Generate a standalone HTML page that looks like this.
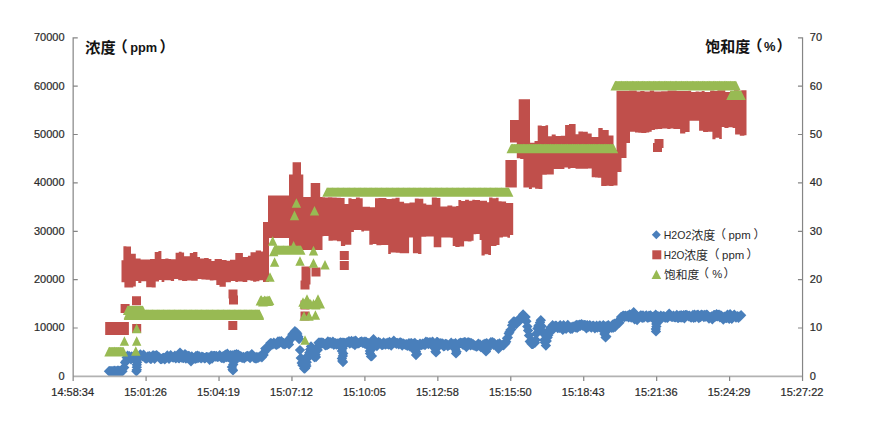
<!DOCTYPE html>
<html><head><meta charset="utf-8"><title>chart</title>
<style>html,body{margin:0;padding:0;background:#fff;}body{width:869px;height:422px;overflow:hidden;font-family:"Liberation Sans",sans-serif;}svg{display:block;}</style>
</head><body>
<svg width="869" height="422" viewBox="0 0 869 422">
<defs><filter id="bl" x="-2%" y="-2%" width="104%" height="104%"><feGaussianBlur stdDeviation="0.4"/></filter></defs>
<rect width="869" height="422" fill="#fff"/>
<g filter="url(#bl)">
<path d="M109 366l5.2 5.2l-5.2 5.2l-5.2 -5.2zM109.8 365.9l5.2 5.2l-5.2 5.2l-5.2 -5.2zM110.7 366l5.2 5.2l-5.2 5.2l-5.2 -5.2zM111.5 366l5.2 5.2l-5.2 5.2l-5.2 -5.2zM112.4 366.2l5.2 5.2l-5.2 5.2l-5.2 -5.2zM113.2 365.8l5.2 5.2l-5.2 5.2l-5.2 -5.2zM114.1 366.3l5.2 5.2l-5.2 5.2l-5.2 -5.2zM114.9 365.5l5.2 5.2l-5.2 5.2l-5.2 -5.2zM115.8 366.4l5.2 5.2l-5.2 5.2l-5.2 -5.2zM116.6 366.1l5.2 5.2l-5.2 5.2l-5.2 -5.2zM117.4 365.5l5.2 5.2l-5.2 5.2l-5.2 -5.2zM118.3 365.5l5.2 5.2l-5.2 5.2l-5.2 -5.2zM119.1 365.7l5.2 5.2l-5.2 5.2l-5.2 -5.2zM120 365.9l5.2 5.2l-5.2 5.2l-5.2 -5.2zM120.8 366.3l5.2 5.2l-5.2 5.2l-5.2 -5.2zM121.7 366.1l5.2 5.2l-5.2 5.2l-5.2 -5.2zM122.5 366.1l5.2 5.2l-5.2 5.2l-5.2 -5.2zM123.4 362.7l5.2 5.2l-5.2 5.2l-5.2 -5.2zM124.2 362.4l5.2 5.2l-5.2 5.2l-5.2 -5.2zM125.1 357.3l5.2 5.2l-5.2 5.2l-5.2 -5.2zM125.9 356l5.2 5.2l-5.2 5.2l-5.2 -5.2zM126.7 352.3l5.2 5.2l-5.2 5.2l-5.2 -5.2zM127.6 350.5l5.2 5.2l-5.2 5.2l-5.2 -5.2zM128.4 352.5l5.2 5.2l-5.2 5.2l-5.2 -5.2zM129.3 351l5.2 5.2l-5.2 5.2l-5.2 -5.2zM130.1 351.9l5.2 5.2l-5.2 5.2l-5.2 -5.2zM131 354l5.2 5.2l-5.2 5.2l-5.2 -5.2zM131.8 351.2l5.2 5.2l-5.2 5.2l-5.2 -5.2zM132.7 352.6l5.2 5.2l-5.2 5.2l-5.2 -5.2zM133.5 351.5l5.2 5.2l-5.2 5.2l-5.2 -5.2zM134.3 350.7l5.2 5.2l-5.2 5.2l-5.2 -5.2zM135.2 351.3l5.2 5.2l-5.2 5.2l-5.2 -5.2zM136 353l5.2 5.2l-5.2 5.2l-5.2 -5.2zM136.9 352.6l5.2 5.2l-5.2 5.2l-5.2 -5.2zM137.7 352.4l5.2 5.2l-5.2 5.2l-5.2 -5.2zM138.6 352.6l5.2 5.2l-5.2 5.2l-5.2 -5.2zM139.4 351.7l5.2 5.2l-5.2 5.2l-5.2 -5.2zM140.3 349.2l5.2 5.2l-5.2 5.2l-5.2 -5.2zM141.1 350l5.2 5.2l-5.2 5.2l-5.2 -5.2zM142 350.7l5.2 5.2l-5.2 5.2l-5.2 -5.2zM142.8 351.2l5.2 5.2l-5.2 5.2l-5.2 -5.2zM143.6 349.6l5.2 5.2l-5.2 5.2l-5.2 -5.2zM144.5 350.4l5.2 5.2l-5.2 5.2l-5.2 -5.2zM145.3 353l5.2 5.2l-5.2 5.2l-5.2 -5.2zM146.2 353.3l5.2 5.2l-5.2 5.2l-5.2 -5.2zM147 353l5.2 5.2l-5.2 5.2l-5.2 -5.2zM147.9 351.3l5.2 5.2l-5.2 5.2l-5.2 -5.2zM148.7 351.5l5.2 5.2l-5.2 5.2l-5.2 -5.2zM149.6 351l5.2 5.2l-5.2 5.2l-5.2 -5.2zM150.4 353.6l5.2 5.2l-5.2 5.2l-5.2 -5.2zM151.2 353.6l5.2 5.2l-5.2 5.2l-5.2 -5.2zM152.1 350.9l5.2 5.2l-5.2 5.2l-5.2 -5.2zM152.9 350.2l5.2 5.2l-5.2 5.2l-5.2 -5.2zM153.8 350.2l5.2 5.2l-5.2 5.2l-5.2 -5.2zM154.6 353.5l5.2 5.2l-5.2 5.2l-5.2 -5.2zM155.5 352.3l5.2 5.2l-5.2 5.2l-5.2 -5.2zM156.3 349.9l5.2 5.2l-5.2 5.2l-5.2 -5.2zM157.2 350.6l5.2 5.2l-5.2 5.2l-5.2 -5.2zM158 351.4l5.2 5.2l-5.2 5.2l-5.2 -5.2zM158.9 351.8l5.2 5.2l-5.2 5.2l-5.2 -5.2zM159.7 352.9l5.2 5.2l-5.2 5.2l-5.2 -5.2zM160.5 353.8l5.2 5.2l-5.2 5.2l-5.2 -5.2zM161.4 353.9l5.2 5.2l-5.2 5.2l-5.2 -5.2zM162.2 353.3l5.2 5.2l-5.2 5.2l-5.2 -5.2zM163.1 352.8l5.2 5.2l-5.2 5.2l-5.2 -5.2zM163.9 352.8l5.2 5.2l-5.2 5.2l-5.2 -5.2zM164.8 354.2l5.2 5.2l-5.2 5.2l-5.2 -5.2zM165.6 352.3l5.2 5.2l-5.2 5.2l-5.2 -5.2zM166.5 352.5l5.2 5.2l-5.2 5.2l-5.2 -5.2zM167.3 350.3l5.2 5.2l-5.2 5.2l-5.2 -5.2zM168.1 352.6l5.2 5.2l-5.2 5.2l-5.2 -5.2zM169 353.5l5.2 5.2l-5.2 5.2l-5.2 -5.2zM169.8 350.9l5.2 5.2l-5.2 5.2l-5.2 -5.2zM170.7 350.1l5.2 5.2l-5.2 5.2l-5.2 -5.2zM171.5 351.3l5.2 5.2l-5.2 5.2l-5.2 -5.2zM172.4 351.9l5.2 5.2l-5.2 5.2l-5.2 -5.2zM173.2 352.4l5.2 5.2l-5.2 5.2l-5.2 -5.2zM174.1 351.4l5.2 5.2l-5.2 5.2l-5.2 -5.2zM174.9 350.4l5.2 5.2l-5.2 5.2l-5.2 -5.2zM175.8 353.2l5.2 5.2l-5.2 5.2l-5.2 -5.2zM176.6 351.7l5.2 5.2l-5.2 5.2l-5.2 -5.2zM177.4 351.6l5.2 5.2l-5.2 5.2l-5.2 -5.2zM178.3 352.6l5.2 5.2l-5.2 5.2l-5.2 -5.2zM179.1 353.1l5.2 5.2l-5.2 5.2l-5.2 -5.2zM180 347.4l5.2 5.2l-5.2 5.2l-5.2 -5.2zM180.8 351.2l5.2 5.2l-5.2 5.2l-5.2 -5.2zM181.7 352.3l5.2 5.2l-5.2 5.2l-5.2 -5.2zM182.5 352.4l5.2 5.2l-5.2 5.2l-5.2 -5.2zM183.4 352.8l5.2 5.2l-5.2 5.2l-5.2 -5.2zM184.2 350.1l5.2 5.2l-5.2 5.2l-5.2 -5.2zM185 348.9l5.2 5.2l-5.2 5.2l-5.2 -5.2zM185.9 353.4l5.2 5.2l-5.2 5.2l-5.2 -5.2zM186.7 350.3l5.2 5.2l-5.2 5.2l-5.2 -5.2zM187.6 352.8l5.2 5.2l-5.2 5.2l-5.2 -5.2zM188.4 350.7l5.2 5.2l-5.2 5.2l-5.2 -5.2zM189.3 351.1l5.2 5.2l-5.2 5.2l-5.2 -5.2zM190.1 352.1l5.2 5.2l-5.2 5.2l-5.2 -5.2zM191 356.1l5.2 5.2l-5.2 5.2l-5.2 -5.2zM191.8 351.2l5.2 5.2l-5.2 5.2l-5.2 -5.2zM192.7 353l5.2 5.2l-5.2 5.2l-5.2 -5.2zM193.5 353.5l5.2 5.2l-5.2 5.2l-5.2 -5.2zM194.3 352.7l5.2 5.2l-5.2 5.2l-5.2 -5.2zM195.2 353.7l5.2 5.2l-5.2 5.2l-5.2 -5.2zM196 350.7l5.2 5.2l-5.2 5.2l-5.2 -5.2zM196.9 353.1l5.2 5.2l-5.2 5.2l-5.2 -5.2zM197.7 350.4l5.2 5.2l-5.2 5.2l-5.2 -5.2zM198.6 352.5l5.2 5.2l-5.2 5.2l-5.2 -5.2zM199.4 351.3l5.2 5.2l-5.2 5.2l-5.2 -5.2zM200.3 352.3l5.2 5.2l-5.2 5.2l-5.2 -5.2zM201.1 353.2l5.2 5.2l-5.2 5.2l-5.2 -5.2zM201.9 351.5l5.2 5.2l-5.2 5.2l-5.2 -5.2zM202.8 352.1l5.2 5.2l-5.2 5.2l-5.2 -5.2zM203.6 352.2l5.2 5.2l-5.2 5.2l-5.2 -5.2zM204.5 353.1l5.2 5.2l-5.2 5.2l-5.2 -5.2zM205.3 352.8l5.2 5.2l-5.2 5.2l-5.2 -5.2zM206.2 351.9l5.2 5.2l-5.2 5.2l-5.2 -5.2zM207 351.7l5.2 5.2l-5.2 5.2l-5.2 -5.2zM207.9 352.8l5.2 5.2l-5.2 5.2l-5.2 -5.2zM208.7 352.2l5.2 5.2l-5.2 5.2l-5.2 -5.2zM209.6 354.6l5.2 5.2l-5.2 5.2l-5.2 -5.2zM210.4 353.2l5.2 5.2l-5.2 5.2l-5.2 -5.2zM211.2 350.5l5.2 5.2l-5.2 5.2l-5.2 -5.2zM212.1 353.4l5.2 5.2l-5.2 5.2l-5.2 -5.2zM212.9 350.8l5.2 5.2l-5.2 5.2l-5.2 -5.2zM213.8 351l5.2 5.2l-5.2 5.2l-5.2 -5.2zM214.6 350.7l5.2 5.2l-5.2 5.2l-5.2 -5.2zM215.5 351.4l5.2 5.2l-5.2 5.2l-5.2 -5.2zM216.3 350.7l5.2 5.2l-5.2 5.2l-5.2 -5.2zM217.2 351.7l5.2 5.2l-5.2 5.2l-5.2 -5.2zM218 351.5l5.2 5.2l-5.2 5.2l-5.2 -5.2zM218.8 351l5.2 5.2l-5.2 5.2l-5.2 -5.2zM219.7 350l5.2 5.2l-5.2 5.2l-5.2 -5.2zM220.5 351.3l5.2 5.2l-5.2 5.2l-5.2 -5.2zM221.4 352.6l5.2 5.2l-5.2 5.2l-5.2 -5.2zM222.2 352.7l5.2 5.2l-5.2 5.2l-5.2 -5.2zM223.1 350.9l5.2 5.2l-5.2 5.2l-5.2 -5.2zM223.9 353l5.2 5.2l-5.2 5.2l-5.2 -5.2zM224.8 350.1l5.2 5.2l-5.2 5.2l-5.2 -5.2zM225.6 349.4l5.2 5.2l-5.2 5.2l-5.2 -5.2zM226.5 351.8l5.2 5.2l-5.2 5.2l-5.2 -5.2zM227.3 348.5l5.2 5.2l-5.2 5.2l-5.2 -5.2zM228.1 351.9l5.2 5.2l-5.2 5.2l-5.2 -5.2zM229 351.5l5.2 5.2l-5.2 5.2l-5.2 -5.2zM229.8 352.8l5.2 5.2l-5.2 5.2l-5.2 -5.2zM230.7 350l5.2 5.2l-5.2 5.2l-5.2 -5.2zM231.5 353.2l5.2 5.2l-5.2 5.2l-5.2 -5.2zM232.4 350.2l5.2 5.2l-5.2 5.2l-5.2 -5.2zM233.2 350.4l5.2 5.2l-5.2 5.2l-5.2 -5.2zM234.1 350.1l5.2 5.2l-5.2 5.2l-5.2 -5.2zM234.9 349.6l5.2 5.2l-5.2 5.2l-5.2 -5.2zM235.7 350.5l5.2 5.2l-5.2 5.2l-5.2 -5.2zM236.6 349.1l5.2 5.2l-5.2 5.2l-5.2 -5.2zM237.4 351.8l5.2 5.2l-5.2 5.2l-5.2 -5.2zM238.3 349.6l5.2 5.2l-5.2 5.2l-5.2 -5.2zM239.1 351.7l5.2 5.2l-5.2 5.2l-5.2 -5.2zM240 351.9l5.2 5.2l-5.2 5.2l-5.2 -5.2zM240.8 351l5.2 5.2l-5.2 5.2l-5.2 -5.2zM241.7 352.3l5.2 5.2l-5.2 5.2l-5.2 -5.2zM242.5 352.6l5.2 5.2l-5.2 5.2l-5.2 -5.2zM243.4 351.8l5.2 5.2l-5.2 5.2l-5.2 -5.2zM244.2 353.1l5.2 5.2l-5.2 5.2l-5.2 -5.2zM245 352.3l5.2 5.2l-5.2 5.2l-5.2 -5.2zM245.9 351.6l5.2 5.2l-5.2 5.2l-5.2 -5.2zM246.7 351.1l5.2 5.2l-5.2 5.2l-5.2 -5.2zM247.6 350.8l5.2 5.2l-5.2 5.2l-5.2 -5.2zM248.4 351.3l5.2 5.2l-5.2 5.2l-5.2 -5.2zM249.3 352.1l5.2 5.2l-5.2 5.2l-5.2 -5.2zM250.1 352.9l5.2 5.2l-5.2 5.2l-5.2 -5.2zM251 351.1l5.2 5.2l-5.2 5.2l-5.2 -5.2zM251.8 348.9l5.2 5.2l-5.2 5.2l-5.2 -5.2zM252.6 350.9l5.2 5.2l-5.2 5.2l-5.2 -5.2zM253.5 351.7l5.2 5.2l-5.2 5.2l-5.2 -5.2zM254.3 352.8l5.2 5.2l-5.2 5.2l-5.2 -5.2zM255.2 352.1l5.2 5.2l-5.2 5.2l-5.2 -5.2zM256 353.3l5.2 5.2l-5.2 5.2l-5.2 -5.2zM256.9 351.8l5.2 5.2l-5.2 5.2l-5.2 -5.2zM257.7 352.7l5.2 5.2l-5.2 5.2l-5.2 -5.2zM258.6 352.3l5.2 5.2l-5.2 5.2l-5.2 -5.2zM259.4 351.6l5.2 5.2l-5.2 5.2l-5.2 -5.2zM260.3 351.4l5.2 5.2l-5.2 5.2l-5.2 -5.2zM261.1 350.2l5.2 5.2l-5.2 5.2l-5.2 -5.2zM261.9 352l5.2 5.2l-5.2 5.2l-5.2 -5.2zM262.8 349.8l5.2 5.2l-5.2 5.2l-5.2 -5.2zM263.6 349.8l5.2 5.2l-5.2 5.2l-5.2 -5.2zM264.5 346.9l5.2 5.2l-5.2 5.2l-5.2 -5.2zM265.3 343.4l5.2 5.2l-5.2 5.2l-5.2 -5.2zM266.2 344.7l5.2 5.2l-5.2 5.2l-5.2 -5.2zM267 344l5.2 5.2l-5.2 5.2l-5.2 -5.2zM267.9 342l5.2 5.2l-5.2 5.2l-5.2 -5.2zM268.7 340.3l5.2 5.2l-5.2 5.2l-5.2 -5.2zM269.6 339.2l5.2 5.2l-5.2 5.2l-5.2 -5.2zM270.4 337.9l5.2 5.2l-5.2 5.2l-5.2 -5.2zM271.2 338l5.2 5.2l-5.2 5.2l-5.2 -5.2zM272.1 339.1l5.2 5.2l-5.2 5.2l-5.2 -5.2zM272.9 339.2l5.2 5.2l-5.2 5.2l-5.2 -5.2zM273.8 337.5l5.2 5.2l-5.2 5.2l-5.2 -5.2zM274.6 338.4l5.2 5.2l-5.2 5.2l-5.2 -5.2zM275.5 339.1l5.2 5.2l-5.2 5.2l-5.2 -5.2zM276.3 339.6l5.2 5.2l-5.2 5.2l-5.2 -5.2zM277.2 339.2l5.2 5.2l-5.2 5.2l-5.2 -5.2zM278 336.2l5.2 5.2l-5.2 5.2l-5.2 -5.2zM278.8 338.4l5.2 5.2l-5.2 5.2l-5.2 -5.2zM279.7 336.3l5.2 5.2l-5.2 5.2l-5.2 -5.2zM280.5 336.8l5.2 5.2l-5.2 5.2l-5.2 -5.2zM281.4 336.1l5.2 5.2l-5.2 5.2l-5.2 -5.2zM282.2 337.5l5.2 5.2l-5.2 5.2l-5.2 -5.2zM283.1 338.9l5.2 5.2l-5.2 5.2l-5.2 -5.2zM283.9 337.9l5.2 5.2l-5.2 5.2l-5.2 -5.2zM284.8 339l5.2 5.2l-5.2 5.2l-5.2 -5.2zM285.6 338.5l5.2 5.2l-5.2 5.2l-5.2 -5.2zM286.5 337.8l5.2 5.2l-5.2 5.2l-5.2 -5.2zM287.3 336.7l5.2 5.2l-5.2 5.2l-5.2 -5.2zM288.1 337.3l5.2 5.2l-5.2 5.2l-5.2 -5.2zM289 339.2l5.2 5.2l-5.2 5.2l-5.2 -5.2zM289.8 333.2l5.2 5.2l-5.2 5.2l-5.2 -5.2zM290.7 334.1l5.2 5.2l-5.2 5.2l-5.2 -5.2zM291.5 331.3l5.2 5.2l-5.2 5.2l-5.2 -5.2zM292.4 329l5.2 5.2l-5.2 5.2l-5.2 -5.2zM293.2 330.5l5.2 5.2l-5.2 5.2l-5.2 -5.2zM294.1 328l5.2 5.2l-5.2 5.2l-5.2 -5.2zM294.9 326l5.2 5.2l-5.2 5.2l-5.2 -5.2zM295.7 327.9l5.2 5.2l-5.2 5.2l-5.2 -5.2zM296.6 327.3l5.2 5.2l-5.2 5.2l-5.2 -5.2zM297.4 328.7l5.2 5.2l-5.2 5.2l-5.2 -5.2zM298.3 331.6l5.2 5.2l-5.2 5.2l-5.2 -5.2zM299.1 333.8l5.2 5.2l-5.2 5.2l-5.2 -5.2zM300 344.9l5.2 5.2l-5.2 5.2l-5.2 -5.2zM300.8 352.8l5.2 5.2l-5.2 5.2l-5.2 -5.2zM301.7 357.8l5.2 5.2l-5.2 5.2l-5.2 -5.2zM302.5 356.7l5.2 5.2l-5.2 5.2l-5.2 -5.2zM303.4 358.7l5.2 5.2l-5.2 5.2l-5.2 -5.2zM304.2 363.4l5.2 5.2l-5.2 5.2l-5.2 -5.2zM305 362.3l5.2 5.2l-5.2 5.2l-5.2 -5.2zM305.9 359.3l5.2 5.2l-5.2 5.2l-5.2 -5.2zM306.7 357l5.2 5.2l-5.2 5.2l-5.2 -5.2zM307.6 352.8l5.2 5.2l-5.2 5.2l-5.2 -5.2zM308.4 350l5.2 5.2l-5.2 5.2l-5.2 -5.2zM309.3 347.5l5.2 5.2l-5.2 5.2l-5.2 -5.2zM310.1 344.3l5.2 5.2l-5.2 5.2l-5.2 -5.2zM311 341.2l5.2 5.2l-5.2 5.2l-5.2 -5.2zM311.8 344.3l5.2 5.2l-5.2 5.2l-5.2 -5.2zM312.6 346.1l5.2 5.2l-5.2 5.2l-5.2 -5.2zM313.5 347.6l5.2 5.2l-5.2 5.2l-5.2 -5.2zM314.3 351.9l5.2 5.2l-5.2 5.2l-5.2 -5.2zM315.2 349.8l5.2 5.2l-5.2 5.2l-5.2 -5.2zM316 351.9l5.2 5.2l-5.2 5.2l-5.2 -5.2zM316.9 342.4l5.2 5.2l-5.2 5.2l-5.2 -5.2zM317.7 344.8l5.2 5.2l-5.2 5.2l-5.2 -5.2zM318.6 337.5l5.2 5.2l-5.2 5.2l-5.2 -5.2zM319.4 337.6l5.2 5.2l-5.2 5.2l-5.2 -5.2zM320.3 337.7l5.2 5.2l-5.2 5.2l-5.2 -5.2zM321.1 337.3l5.2 5.2l-5.2 5.2l-5.2 -5.2zM321.9 338.4l5.2 5.2l-5.2 5.2l-5.2 -5.2zM322.8 337.4l5.2 5.2l-5.2 5.2l-5.2 -5.2zM323.6 338.1l5.2 5.2l-5.2 5.2l-5.2 -5.2zM324.5 339l5.2 5.2l-5.2 5.2l-5.2 -5.2zM325.3 340.1l5.2 5.2l-5.2 5.2l-5.2 -5.2zM326.2 338.5l5.2 5.2l-5.2 5.2l-5.2 -5.2zM327 339.9l5.2 5.2l-5.2 5.2l-5.2 -5.2zM327.9 336.3l5.2 5.2l-5.2 5.2l-5.2 -5.2zM328.7 338.9l5.2 5.2l-5.2 5.2l-5.2 -5.2zM329.5 336.9l5.2 5.2l-5.2 5.2l-5.2 -5.2zM330.4 337.1l5.2 5.2l-5.2 5.2l-5.2 -5.2zM331.2 338.4l5.2 5.2l-5.2 5.2l-5.2 -5.2zM332.1 337.8l5.2 5.2l-5.2 5.2l-5.2 -5.2zM332.9 336.4l5.2 5.2l-5.2 5.2l-5.2 -5.2zM333.8 339.5l5.2 5.2l-5.2 5.2l-5.2 -5.2zM334.6 338.9l5.2 5.2l-5.2 5.2l-5.2 -5.2zM335.5 338l5.2 5.2l-5.2 5.2l-5.2 -5.2zM336.3 339.4l5.2 5.2l-5.2 5.2l-5.2 -5.2zM337.2 338.2l5.2 5.2l-5.2 5.2l-5.2 -5.2zM338 339.2l5.2 5.2l-5.2 5.2l-5.2 -5.2zM338.8 338.2l5.2 5.2l-5.2 5.2l-5.2 -5.2zM339.7 337.8l5.2 5.2l-5.2 5.2l-5.2 -5.2zM340.5 337.3l5.2 5.2l-5.2 5.2l-5.2 -5.2zM341.4 337.8l5.2 5.2l-5.2 5.2l-5.2 -5.2zM342.2 337.5l5.2 5.2l-5.2 5.2l-5.2 -5.2zM343.1 339.5l5.2 5.2l-5.2 5.2l-5.2 -5.2zM343.9 337.5l5.2 5.2l-5.2 5.2l-5.2 -5.2zM344.8 337.9l5.2 5.2l-5.2 5.2l-5.2 -5.2zM345.6 338.9l5.2 5.2l-5.2 5.2l-5.2 -5.2zM346.4 337.4l5.2 5.2l-5.2 5.2l-5.2 -5.2zM347.3 337.2l5.2 5.2l-5.2 5.2l-5.2 -5.2zM348.1 336.7l5.2 5.2l-5.2 5.2l-5.2 -5.2zM349 335.9l5.2 5.2l-5.2 5.2l-5.2 -5.2zM349.8 338.4l5.2 5.2l-5.2 5.2l-5.2 -5.2zM350.7 336.7l5.2 5.2l-5.2 5.2l-5.2 -5.2zM351.5 335.7l5.2 5.2l-5.2 5.2l-5.2 -5.2zM352.4 338l5.2 5.2l-5.2 5.2l-5.2 -5.2zM353.2 338.4l5.2 5.2l-5.2 5.2l-5.2 -5.2zM354.1 336.1l5.2 5.2l-5.2 5.2l-5.2 -5.2zM354.9 339.9l5.2 5.2l-5.2 5.2l-5.2 -5.2zM355.7 335.6l5.2 5.2l-5.2 5.2l-5.2 -5.2zM356.6 336.9l5.2 5.2l-5.2 5.2l-5.2 -5.2zM357.4 338l5.2 5.2l-5.2 5.2l-5.2 -5.2zM358.3 338.1l5.2 5.2l-5.2 5.2l-5.2 -5.2zM359.1 337.9l5.2 5.2l-5.2 5.2l-5.2 -5.2zM360 336.9l5.2 5.2l-5.2 5.2l-5.2 -5.2zM360.8 336.7l5.2 5.2l-5.2 5.2l-5.2 -5.2zM361.7 336.2l5.2 5.2l-5.2 5.2l-5.2 -5.2zM362.5 337.5l5.2 5.2l-5.2 5.2l-5.2 -5.2zM363.3 337.6l5.2 5.2l-5.2 5.2l-5.2 -5.2zM364.2 336.4l5.2 5.2l-5.2 5.2l-5.2 -5.2zM365 338.7l5.2 5.2l-5.2 5.2l-5.2 -5.2zM365.9 336.5l5.2 5.2l-5.2 5.2l-5.2 -5.2zM366.7 337.2l5.2 5.2l-5.2 5.2l-5.2 -5.2zM367.6 337.8l5.2 5.2l-5.2 5.2l-5.2 -5.2zM368.4 337.9l5.2 5.2l-5.2 5.2l-5.2 -5.2zM369.3 339.4l5.2 5.2l-5.2 5.2l-5.2 -5.2zM370.1 341.1l5.2 5.2l-5.2 5.2l-5.2 -5.2zM371 340.3l5.2 5.2l-5.2 5.2l-5.2 -5.2zM371.8 342.4l5.2 5.2l-5.2 5.2l-5.2 -5.2zM372.6 339.7l5.2 5.2l-5.2 5.2l-5.2 -5.2zM373.5 334l5.2 5.2l-5.2 5.2l-5.2 -5.2zM374.3 340.8l5.2 5.2l-5.2 5.2l-5.2 -5.2zM375.2 340.4l5.2 5.2l-5.2 5.2l-5.2 -5.2zM376 339.8l5.2 5.2l-5.2 5.2l-5.2 -5.2zM376.9 340.8l5.2 5.2l-5.2 5.2l-5.2 -5.2zM377.7 338.2l5.2 5.2l-5.2 5.2l-5.2 -5.2zM378.6 336.8l5.2 5.2l-5.2 5.2l-5.2 -5.2zM379.4 338.4l5.2 5.2l-5.2 5.2l-5.2 -5.2zM380.2 337.8l5.2 5.2l-5.2 5.2l-5.2 -5.2zM381.1 339l5.2 5.2l-5.2 5.2l-5.2 -5.2zM381.9 339.9l5.2 5.2l-5.2 5.2l-5.2 -5.2zM382.8 339.6l5.2 5.2l-5.2 5.2l-5.2 -5.2zM383.6 337.2l5.2 5.2l-5.2 5.2l-5.2 -5.2zM384.5 338.4l5.2 5.2l-5.2 5.2l-5.2 -5.2zM385.3 339.3l5.2 5.2l-5.2 5.2l-5.2 -5.2zM386.2 337.9l5.2 5.2l-5.2 5.2l-5.2 -5.2zM387 338.9l5.2 5.2l-5.2 5.2l-5.2 -5.2zM387.9 337.5l5.2 5.2l-5.2 5.2l-5.2 -5.2zM388.7 339.4l5.2 5.2l-5.2 5.2l-5.2 -5.2zM389.5 336.8l5.2 5.2l-5.2 5.2l-5.2 -5.2zM390.4 338.8l5.2 5.2l-5.2 5.2l-5.2 -5.2zM391.2 340.4l5.2 5.2l-5.2 5.2l-5.2 -5.2zM392.1 338.6l5.2 5.2l-5.2 5.2l-5.2 -5.2zM392.9 337.9l5.2 5.2l-5.2 5.2l-5.2 -5.2zM393.8 335.5l5.2 5.2l-5.2 5.2l-5.2 -5.2zM394.6 337.3l5.2 5.2l-5.2 5.2l-5.2 -5.2zM395.5 337.3l5.2 5.2l-5.2 5.2l-5.2 -5.2zM396.3 338.5l5.2 5.2l-5.2 5.2l-5.2 -5.2zM397.1 337.7l5.2 5.2l-5.2 5.2l-5.2 -5.2zM398 338l5.2 5.2l-5.2 5.2l-5.2 -5.2zM398.8 339.2l5.2 5.2l-5.2 5.2l-5.2 -5.2zM399.7 337.6l5.2 5.2l-5.2 5.2l-5.2 -5.2zM400.5 337.3l5.2 5.2l-5.2 5.2l-5.2 -5.2zM401.4 337.7l5.2 5.2l-5.2 5.2l-5.2 -5.2zM402.2 340.4l5.2 5.2l-5.2 5.2l-5.2 -5.2zM403.1 338.3l5.2 5.2l-5.2 5.2l-5.2 -5.2zM403.9 338.7l5.2 5.2l-5.2 5.2l-5.2 -5.2zM404.8 339.2l5.2 5.2l-5.2 5.2l-5.2 -5.2zM405.6 339.6l5.2 5.2l-5.2 5.2l-5.2 -5.2zM406.4 338.9l5.2 5.2l-5.2 5.2l-5.2 -5.2zM407.3 340.5l5.2 5.2l-5.2 5.2l-5.2 -5.2zM408.1 338.7l5.2 5.2l-5.2 5.2l-5.2 -5.2zM409 338.1l5.2 5.2l-5.2 5.2l-5.2 -5.2zM409.8 341.2l5.2 5.2l-5.2 5.2l-5.2 -5.2zM410.7 338.2l5.2 5.2l-5.2 5.2l-5.2 -5.2zM411.5 337.9l5.2 5.2l-5.2 5.2l-5.2 -5.2zM412.4 343.1l5.2 5.2l-5.2 5.2l-5.2 -5.2zM413.2 339l5.2 5.2l-5.2 5.2l-5.2 -5.2zM414 338.2l5.2 5.2l-5.2 5.2l-5.2 -5.2zM414.9 337.8l5.2 5.2l-5.2 5.2l-5.2 -5.2zM415.7 340.4l5.2 5.2l-5.2 5.2l-5.2 -5.2zM416.6 341.8l5.2 5.2l-5.2 5.2l-5.2 -5.2zM417.4 339.8l5.2 5.2l-5.2 5.2l-5.2 -5.2zM418.3 341.5l5.2 5.2l-5.2 5.2l-5.2 -5.2zM419.1 339.7l5.2 5.2l-5.2 5.2l-5.2 -5.2zM420 338.4l5.2 5.2l-5.2 5.2l-5.2 -5.2zM420.8 339.4l5.2 5.2l-5.2 5.2l-5.2 -5.2zM421.7 339.9l5.2 5.2l-5.2 5.2l-5.2 -5.2zM422.5 338.4l5.2 5.2l-5.2 5.2l-5.2 -5.2zM423.3 339.2l5.2 5.2l-5.2 5.2l-5.2 -5.2zM424.2 338.8l5.2 5.2l-5.2 5.2l-5.2 -5.2zM425 339.8l5.2 5.2l-5.2 5.2l-5.2 -5.2zM425.9 336.6l5.2 5.2l-5.2 5.2l-5.2 -5.2zM426.7 338l5.2 5.2l-5.2 5.2l-5.2 -5.2zM427.6 337.1l5.2 5.2l-5.2 5.2l-5.2 -5.2zM428.4 338.8l5.2 5.2l-5.2 5.2l-5.2 -5.2zM429.3 337.2l5.2 5.2l-5.2 5.2l-5.2 -5.2zM430.1 337.4l5.2 5.2l-5.2 5.2l-5.2 -5.2zM430.9 337.3l5.2 5.2l-5.2 5.2l-5.2 -5.2zM431.8 338.9l5.2 5.2l-5.2 5.2l-5.2 -5.2zM432.6 336.5l5.2 5.2l-5.2 5.2l-5.2 -5.2zM433.5 341.8l5.2 5.2l-5.2 5.2l-5.2 -5.2zM434.3 339.1l5.2 5.2l-5.2 5.2l-5.2 -5.2zM435.2 338.9l5.2 5.2l-5.2 5.2l-5.2 -5.2zM436 338.6l5.2 5.2l-5.2 5.2l-5.2 -5.2zM436.9 336.7l5.2 5.2l-5.2 5.2l-5.2 -5.2zM437.7 337.1l5.2 5.2l-5.2 5.2l-5.2 -5.2zM438.6 339.9l5.2 5.2l-5.2 5.2l-5.2 -5.2zM439.4 339.4l5.2 5.2l-5.2 5.2l-5.2 -5.2zM440.2 338.1l5.2 5.2l-5.2 5.2l-5.2 -5.2zM441.1 338.9l5.2 5.2l-5.2 5.2l-5.2 -5.2zM441.9 338.2l5.2 5.2l-5.2 5.2l-5.2 -5.2zM442.8 338.4l5.2 5.2l-5.2 5.2l-5.2 -5.2zM443.6 341l5.2 5.2l-5.2 5.2l-5.2 -5.2zM444.5 340.8l5.2 5.2l-5.2 5.2l-5.2 -5.2zM445.3 338.7l5.2 5.2l-5.2 5.2l-5.2 -5.2zM446.2 339.1l5.2 5.2l-5.2 5.2l-5.2 -5.2zM447 339.3l5.2 5.2l-5.2 5.2l-5.2 -5.2zM447.8 340.8l5.2 5.2l-5.2 5.2l-5.2 -5.2zM448.7 339.9l5.2 5.2l-5.2 5.2l-5.2 -5.2zM449.5 339.5l5.2 5.2l-5.2 5.2l-5.2 -5.2zM450.4 339.1l5.2 5.2l-5.2 5.2l-5.2 -5.2zM451.2 337.5l5.2 5.2l-5.2 5.2l-5.2 -5.2zM452.1 339.9l5.2 5.2l-5.2 5.2l-5.2 -5.2zM452.9 339.7l5.2 5.2l-5.2 5.2l-5.2 -5.2zM453.8 338.8l5.2 5.2l-5.2 5.2l-5.2 -5.2zM454.6 340l5.2 5.2l-5.2 5.2l-5.2 -5.2zM455.5 338l5.2 5.2l-5.2 5.2l-5.2 -5.2zM456.3 340.2l5.2 5.2l-5.2 5.2l-5.2 -5.2zM457.1 339.7l5.2 5.2l-5.2 5.2l-5.2 -5.2zM458 339.6l5.2 5.2l-5.2 5.2l-5.2 -5.2zM458.8 338.5l5.2 5.2l-5.2 5.2l-5.2 -5.2zM459.7 338l5.2 5.2l-5.2 5.2l-5.2 -5.2zM460.5 337.5l5.2 5.2l-5.2 5.2l-5.2 -5.2zM461.4 338.1l5.2 5.2l-5.2 5.2l-5.2 -5.2zM462.2 337.8l5.2 5.2l-5.2 5.2l-5.2 -5.2zM463.1 339.6l5.2 5.2l-5.2 5.2l-5.2 -5.2zM463.9 337.2l5.2 5.2l-5.2 5.2l-5.2 -5.2zM464.7 337l5.2 5.2l-5.2 5.2l-5.2 -5.2zM465.6 337.3l5.2 5.2l-5.2 5.2l-5.2 -5.2zM466.4 341.9l5.2 5.2l-5.2 5.2l-5.2 -5.2zM467.3 339.7l5.2 5.2l-5.2 5.2l-5.2 -5.2zM468.1 337.1l5.2 5.2l-5.2 5.2l-5.2 -5.2zM469 339.3l5.2 5.2l-5.2 5.2l-5.2 -5.2zM469.8 337.4l5.2 5.2l-5.2 5.2l-5.2 -5.2zM470.7 340.2l5.2 5.2l-5.2 5.2l-5.2 -5.2zM471.5 338l5.2 5.2l-5.2 5.2l-5.2 -5.2zM472.4 339.6l5.2 5.2l-5.2 5.2l-5.2 -5.2zM473.2 339l5.2 5.2l-5.2 5.2l-5.2 -5.2zM474 340.4l5.2 5.2l-5.2 5.2l-5.2 -5.2zM474.9 340.3l5.2 5.2l-5.2 5.2l-5.2 -5.2zM475.7 340.9l5.2 5.2l-5.2 5.2l-5.2 -5.2zM476.6 341.3l5.2 5.2l-5.2 5.2l-5.2 -5.2zM477.4 340.9l5.2 5.2l-5.2 5.2l-5.2 -5.2zM478.3 338.6l5.2 5.2l-5.2 5.2l-5.2 -5.2zM479.1 340.4l5.2 5.2l-5.2 5.2l-5.2 -5.2zM480 339.2l5.2 5.2l-5.2 5.2l-5.2 -5.2zM480.8 341.8l5.2 5.2l-5.2 5.2l-5.2 -5.2zM481.6 341.7l5.2 5.2l-5.2 5.2l-5.2 -5.2zM482.5 340.6l5.2 5.2l-5.2 5.2l-5.2 -5.2zM483.3 339.3l5.2 5.2l-5.2 5.2l-5.2 -5.2zM484.2 339.9l5.2 5.2l-5.2 5.2l-5.2 -5.2zM485 338.5l5.2 5.2l-5.2 5.2l-5.2 -5.2zM485.9 339l5.2 5.2l-5.2 5.2l-5.2 -5.2zM486.7 338.1l5.2 5.2l-5.2 5.2l-5.2 -5.2zM487.6 340.4l5.2 5.2l-5.2 5.2l-5.2 -5.2zM488.4 340.5l5.2 5.2l-5.2 5.2l-5.2 -5.2zM489.3 340l5.2 5.2l-5.2 5.2l-5.2 -5.2zM490.1 340.1l5.2 5.2l-5.2 5.2l-5.2 -5.2zM490.9 337.1l5.2 5.2l-5.2 5.2l-5.2 -5.2zM491.8 338.1l5.2 5.2l-5.2 5.2l-5.2 -5.2zM492.6 337.1l5.2 5.2l-5.2 5.2l-5.2 -5.2zM493.5 339.6l5.2 5.2l-5.2 5.2l-5.2 -5.2zM494.3 338.1l5.2 5.2l-5.2 5.2l-5.2 -5.2zM495.2 339.1l5.2 5.2l-5.2 5.2l-5.2 -5.2zM496 340.3l5.2 5.2l-5.2 5.2l-5.2 -5.2zM496.9 340.9l5.2 5.2l-5.2 5.2l-5.2 -5.2zM497.7 339l5.2 5.2l-5.2 5.2l-5.2 -5.2zM498.5 343.6l5.2 5.2l-5.2 5.2l-5.2 -5.2zM499.4 338.3l5.2 5.2l-5.2 5.2l-5.2 -5.2zM500.2 339.1l5.2 5.2l-5.2 5.2l-5.2 -5.2zM501.1 339.9l5.2 5.2l-5.2 5.2l-5.2 -5.2zM501.9 339.9l5.2 5.2l-5.2 5.2l-5.2 -5.2zM502.8 339.6l5.2 5.2l-5.2 5.2l-5.2 -5.2zM503.6 340l5.2 5.2l-5.2 5.2l-5.2 -5.2zM504.5 338.6l5.2 5.2l-5.2 5.2l-5.2 -5.2zM505.3 338.2l5.2 5.2l-5.2 5.2l-5.2 -5.2zM506.2 336.5l5.2 5.2l-5.2 5.2l-5.2 -5.2zM507 333.1l5.2 5.2l-5.2 5.2l-5.2 -5.2zM507.8 332.4l5.2 5.2l-5.2 5.2l-5.2 -5.2zM508.7 328.2l5.2 5.2l-5.2 5.2l-5.2 -5.2zM509.5 326.8l5.2 5.2l-5.2 5.2l-5.2 -5.2zM510.4 324.9l5.2 5.2l-5.2 5.2l-5.2 -5.2zM511.2 324.3l5.2 5.2l-5.2 5.2l-5.2 -5.2zM512.1 320.1l5.2 5.2l-5.2 5.2l-5.2 -5.2zM512.9 317.1l5.2 5.2l-5.2 5.2l-5.2 -5.2zM513.8 316.3l5.2 5.2l-5.2 5.2l-5.2 -5.2zM514.6 316.6l5.2 5.2l-5.2 5.2l-5.2 -5.2zM515.4 317.5l5.2 5.2l-5.2 5.2l-5.2 -5.2zM516.3 318.9l5.2 5.2l-5.2 5.2l-5.2 -5.2zM517.1 316.1l5.2 5.2l-5.2 5.2l-5.2 -5.2zM518 317l5.2 5.2l-5.2 5.2l-5.2 -5.2zM518.8 315.9l5.2 5.2l-5.2 5.2l-5.2 -5.2zM519.7 315.6l5.2 5.2l-5.2 5.2l-5.2 -5.2zM520.5 312.4l5.2 5.2l-5.2 5.2l-5.2 -5.2zM521.4 311.6l5.2 5.2l-5.2 5.2l-5.2 -5.2zM522.2 312.9l5.2 5.2l-5.2 5.2l-5.2 -5.2zM523.1 309.3l5.2 5.2l-5.2 5.2l-5.2 -5.2zM523.9 310.2l5.2 5.2l-5.2 5.2l-5.2 -5.2zM524.7 312.4l5.2 5.2l-5.2 5.2l-5.2 -5.2zM525.6 311.7l5.2 5.2l-5.2 5.2l-5.2 -5.2zM526.4 316.1l5.2 5.2l-5.2 5.2l-5.2 -5.2zM527.3 321.3l5.2 5.2l-5.2 5.2l-5.2 -5.2zM528.1 325.3l5.2 5.2l-5.2 5.2l-5.2 -5.2zM529 330.2l5.2 5.2l-5.2 5.2l-5.2 -5.2zM529.8 336.3l5.2 5.2l-5.2 5.2l-5.2 -5.2zM530.7 336.3l5.2 5.2l-5.2 5.2l-5.2 -5.2zM531.5 338.5l5.2 5.2l-5.2 5.2l-5.2 -5.2zM532.3 336.5l5.2 5.2l-5.2 5.2l-5.2 -5.2zM533.2 338.5l5.2 5.2l-5.2 5.2l-5.2 -5.2zM534 336.6l5.2 5.2l-5.2 5.2l-5.2 -5.2zM534.9 337.5l5.2 5.2l-5.2 5.2l-5.2 -5.2zM535.7 334.7l5.2 5.2l-5.2 5.2l-5.2 -5.2zM536.6 328.2l5.2 5.2l-5.2 5.2l-5.2 -5.2zM537.4 323.4l5.2 5.2l-5.2 5.2l-5.2 -5.2zM538.3 320.9l5.2 5.2l-5.2 5.2l-5.2 -5.2zM539.1 319.9l5.2 5.2l-5.2 5.2l-5.2 -5.2zM540 317.4l5.2 5.2l-5.2 5.2l-5.2 -5.2zM540.8 315.1l5.2 5.2l-5.2 5.2l-5.2 -5.2zM541.6 321l5.2 5.2l-5.2 5.2l-5.2 -5.2zM542.5 326.1l5.2 5.2l-5.2 5.2l-5.2 -5.2zM543.3 328l5.2 5.2l-5.2 5.2l-5.2 -5.2zM544.2 334.9l5.2 5.2l-5.2 5.2l-5.2 -5.2zM545 337.3l5.2 5.2l-5.2 5.2l-5.2 -5.2zM545.9 340.4l5.2 5.2l-5.2 5.2l-5.2 -5.2zM546.7 335.8l5.2 5.2l-5.2 5.2l-5.2 -5.2zM547.6 332.3l5.2 5.2l-5.2 5.2l-5.2 -5.2zM548.4 329.9l5.2 5.2l-5.2 5.2l-5.2 -5.2zM549.2 327.4l5.2 5.2l-5.2 5.2l-5.2 -5.2zM550.1 323.9l5.2 5.2l-5.2 5.2l-5.2 -5.2zM550.9 322.3l5.2 5.2l-5.2 5.2l-5.2 -5.2zM551.8 321.5l5.2 5.2l-5.2 5.2l-5.2 -5.2zM552.6 320l5.2 5.2l-5.2 5.2l-5.2 -5.2zM553.5 323.8l5.2 5.2l-5.2 5.2l-5.2 -5.2zM554.3 321.4l5.2 5.2l-5.2 5.2l-5.2 -5.2zM555.2 320.7l5.2 5.2l-5.2 5.2l-5.2 -5.2zM556 320.4l5.2 5.2l-5.2 5.2l-5.2 -5.2zM556.9 321.2l5.2 5.2l-5.2 5.2l-5.2 -5.2zM557.7 322.8l5.2 5.2l-5.2 5.2l-5.2 -5.2zM558.5 322.1l5.2 5.2l-5.2 5.2l-5.2 -5.2zM559.4 322.5l5.2 5.2l-5.2 5.2l-5.2 -5.2zM560.2 319.9l5.2 5.2l-5.2 5.2l-5.2 -5.2zM561.1 322.2l5.2 5.2l-5.2 5.2l-5.2 -5.2zM561.9 322.4l5.2 5.2l-5.2 5.2l-5.2 -5.2zM562.8 324.7l5.2 5.2l-5.2 5.2l-5.2 -5.2zM563.6 320.1l5.2 5.2l-5.2 5.2l-5.2 -5.2zM564.5 322.3l5.2 5.2l-5.2 5.2l-5.2 -5.2zM565.3 322.8l5.2 5.2l-5.2 5.2l-5.2 -5.2zM566.1 323.7l5.2 5.2l-5.2 5.2l-5.2 -5.2zM567 320.5l5.2 5.2l-5.2 5.2l-5.2 -5.2zM567.8 319.8l5.2 5.2l-5.2 5.2l-5.2 -5.2zM568.7 321.3l5.2 5.2l-5.2 5.2l-5.2 -5.2zM569.5 321.6l5.2 5.2l-5.2 5.2l-5.2 -5.2zM570.4 323.5l5.2 5.2l-5.2 5.2l-5.2 -5.2zM571.2 321.9l5.2 5.2l-5.2 5.2l-5.2 -5.2zM572.1 323.6l5.2 5.2l-5.2 5.2l-5.2 -5.2zM572.9 321.5l5.2 5.2l-5.2 5.2l-5.2 -5.2zM573.8 321.5l5.2 5.2l-5.2 5.2l-5.2 -5.2zM574.6 321.3l5.2 5.2l-5.2 5.2l-5.2 -5.2zM575.4 322.2l5.2 5.2l-5.2 5.2l-5.2 -5.2zM576.3 319.8l5.2 5.2l-5.2 5.2l-5.2 -5.2zM577.1 322.7l5.2 5.2l-5.2 5.2l-5.2 -5.2zM578 319.7l5.2 5.2l-5.2 5.2l-5.2 -5.2zM578.8 321.4l5.2 5.2l-5.2 5.2l-5.2 -5.2zM579.7 319.4l5.2 5.2l-5.2 5.2l-5.2 -5.2zM580.5 320.5l5.2 5.2l-5.2 5.2l-5.2 -5.2zM581.4 319.1l5.2 5.2l-5.2 5.2l-5.2 -5.2zM582.2 319.5l5.2 5.2l-5.2 5.2l-5.2 -5.2zM583 320.6l5.2 5.2l-5.2 5.2l-5.2 -5.2zM583.9 319.7l5.2 5.2l-5.2 5.2l-5.2 -5.2zM584.7 320l5.2 5.2l-5.2 5.2l-5.2 -5.2zM585.6 320l5.2 5.2l-5.2 5.2l-5.2 -5.2zM586.4 323l5.2 5.2l-5.2 5.2l-5.2 -5.2zM587.3 320l5.2 5.2l-5.2 5.2l-5.2 -5.2zM588.1 321.8l5.2 5.2l-5.2 5.2l-5.2 -5.2zM589 321l5.2 5.2l-5.2 5.2l-5.2 -5.2zM589.8 319.9l5.2 5.2l-5.2 5.2l-5.2 -5.2zM590.7 321.9l5.2 5.2l-5.2 5.2l-5.2 -5.2zM591.5 322.4l5.2 5.2l-5.2 5.2l-5.2 -5.2zM592.3 321l5.2 5.2l-5.2 5.2l-5.2 -5.2zM593.2 320.4l5.2 5.2l-5.2 5.2l-5.2 -5.2zM594 321.1l5.2 5.2l-5.2 5.2l-5.2 -5.2zM594.9 323l5.2 5.2l-5.2 5.2l-5.2 -5.2zM595.7 322.1l5.2 5.2l-5.2 5.2l-5.2 -5.2zM596.6 320.6l5.2 5.2l-5.2 5.2l-5.2 -5.2zM597.4 322.4l5.2 5.2l-5.2 5.2l-5.2 -5.2zM598.3 321.3l5.2 5.2l-5.2 5.2l-5.2 -5.2zM599.1 321.5l5.2 5.2l-5.2 5.2l-5.2 -5.2zM599.9 320.2l5.2 5.2l-5.2 5.2l-5.2 -5.2zM600.8 322.3l5.2 5.2l-5.2 5.2l-5.2 -5.2zM601.6 322.6l5.2 5.2l-5.2 5.2l-5.2 -5.2zM602.5 324.7l5.2 5.2l-5.2 5.2l-5.2 -5.2zM603.3 320.1l5.2 5.2l-5.2 5.2l-5.2 -5.2zM604.2 321.8l5.2 5.2l-5.2 5.2l-5.2 -5.2zM605 321.3l5.2 5.2l-5.2 5.2l-5.2 -5.2zM605.9 321.7l5.2 5.2l-5.2 5.2l-5.2 -5.2zM606.7 321.1l5.2 5.2l-5.2 5.2l-5.2 -5.2zM607.6 320.5l5.2 5.2l-5.2 5.2l-5.2 -5.2zM608.4 320l5.2 5.2l-5.2 5.2l-5.2 -5.2zM609.2 320.9l5.2 5.2l-5.2 5.2l-5.2 -5.2zM610.1 321.8l5.2 5.2l-5.2 5.2l-5.2 -5.2zM610.9 321.2l5.2 5.2l-5.2 5.2l-5.2 -5.2zM611.8 322.5l5.2 5.2l-5.2 5.2l-5.2 -5.2zM612.6 319.5l5.2 5.2l-5.2 5.2l-5.2 -5.2zM613.5 322.3l5.2 5.2l-5.2 5.2l-5.2 -5.2zM614.3 318.5l5.2 5.2l-5.2 5.2l-5.2 -5.2zM615.2 321.5l5.2 5.2l-5.2 5.2l-5.2 -5.2zM616 320l5.2 5.2l-5.2 5.2l-5.2 -5.2zM616.8 319l5.2 5.2l-5.2 5.2l-5.2 -5.2zM617.7 318.9l5.2 5.2l-5.2 5.2l-5.2 -5.2zM618.5 317l5.2 5.2l-5.2 5.2l-5.2 -5.2zM619.4 317.5l5.2 5.2l-5.2 5.2l-5.2 -5.2zM620.2 314l5.2 5.2l-5.2 5.2l-5.2 -5.2zM621.1 311.8l5.2 5.2l-5.2 5.2l-5.2 -5.2zM621.9 312.4l5.2 5.2l-5.2 5.2l-5.2 -5.2zM622.8 310.7l5.2 5.2l-5.2 5.2l-5.2 -5.2zM623.6 310.6l5.2 5.2l-5.2 5.2l-5.2 -5.2zM624.5 311.9l5.2 5.2l-5.2 5.2l-5.2 -5.2zM625.3 310.4l5.2 5.2l-5.2 5.2l-5.2 -5.2zM626.1 311l5.2 5.2l-5.2 5.2l-5.2 -5.2zM627 311.1l5.2 5.2l-5.2 5.2l-5.2 -5.2zM627.8 310.5l5.2 5.2l-5.2 5.2l-5.2 -5.2zM628.7 312.2l5.2 5.2l-5.2 5.2l-5.2 -5.2zM629.5 309.3l5.2 5.2l-5.2 5.2l-5.2 -5.2zM630.4 309.7l5.2 5.2l-5.2 5.2l-5.2 -5.2zM631.2 312.4l5.2 5.2l-5.2 5.2l-5.2 -5.2zM632.1 311l5.2 5.2l-5.2 5.2l-5.2 -5.2zM632.9 310.1l5.2 5.2l-5.2 5.2l-5.2 -5.2zM633.7 307l5.2 5.2l-5.2 5.2l-5.2 -5.2zM634.6 314.1l5.2 5.2l-5.2 5.2l-5.2 -5.2zM635.4 311.8l5.2 5.2l-5.2 5.2l-5.2 -5.2zM636.3 310.1l5.2 5.2l-5.2 5.2l-5.2 -5.2zM637.1 314.9l5.2 5.2l-5.2 5.2l-5.2 -5.2zM638 313.7l5.2 5.2l-5.2 5.2l-5.2 -5.2zM638.8 312.5l5.2 5.2l-5.2 5.2l-5.2 -5.2zM639.7 311.3l5.2 5.2l-5.2 5.2l-5.2 -5.2zM640.5 310.3l5.2 5.2l-5.2 5.2l-5.2 -5.2zM641.4 310.4l5.2 5.2l-5.2 5.2l-5.2 -5.2zM642.2 312.7l5.2 5.2l-5.2 5.2l-5.2 -5.2zM643 310.3l5.2 5.2l-5.2 5.2l-5.2 -5.2zM643.9 312.3l5.2 5.2l-5.2 5.2l-5.2 -5.2zM644.7 311.4l5.2 5.2l-5.2 5.2l-5.2 -5.2zM645.6 310.7l5.2 5.2l-5.2 5.2l-5.2 -5.2zM646.4 310.3l5.2 5.2l-5.2 5.2l-5.2 -5.2zM647.3 312.3l5.2 5.2l-5.2 5.2l-5.2 -5.2zM648.1 312.3l5.2 5.2l-5.2 5.2l-5.2 -5.2zM649 310.5l5.2 5.2l-5.2 5.2l-5.2 -5.2zM649.8 311.8l5.2 5.2l-5.2 5.2l-5.2 -5.2zM650.6 310.2l5.2 5.2l-5.2 5.2l-5.2 -5.2zM651.5 311.5l5.2 5.2l-5.2 5.2l-5.2 -5.2zM652.3 312.6l5.2 5.2l-5.2 5.2l-5.2 -5.2zM653.2 311.4l5.2 5.2l-5.2 5.2l-5.2 -5.2zM654 312l5.2 5.2l-5.2 5.2l-5.2 -5.2zM654.9 311.9l5.2 5.2l-5.2 5.2l-5.2 -5.2zM655.7 309.4l5.2 5.2l-5.2 5.2l-5.2 -5.2zM656.6 311.5l5.2 5.2l-5.2 5.2l-5.2 -5.2zM657.4 311.1l5.2 5.2l-5.2 5.2l-5.2 -5.2zM658.3 311.2l5.2 5.2l-5.2 5.2l-5.2 -5.2zM659.1 312l5.2 5.2l-5.2 5.2l-5.2 -5.2zM659.9 315l5.2 5.2l-5.2 5.2l-5.2 -5.2zM660.8 310.4l5.2 5.2l-5.2 5.2l-5.2 -5.2zM661.6 312.4l5.2 5.2l-5.2 5.2l-5.2 -5.2zM662.5 312l5.2 5.2l-5.2 5.2l-5.2 -5.2zM663.3 310.9l5.2 5.2l-5.2 5.2l-5.2 -5.2zM664.2 311.3l5.2 5.2l-5.2 5.2l-5.2 -5.2zM665 312.4l5.2 5.2l-5.2 5.2l-5.2 -5.2zM665.9 312.3l5.2 5.2l-5.2 5.2l-5.2 -5.2zM666.7 311.9l5.2 5.2l-5.2 5.2l-5.2 -5.2zM667.5 312.7l5.2 5.2l-5.2 5.2l-5.2 -5.2zM668.4 310.5l5.2 5.2l-5.2 5.2l-5.2 -5.2zM669.2 308.4l5.2 5.2l-5.2 5.2l-5.2 -5.2zM670.1 309.4l5.2 5.2l-5.2 5.2l-5.2 -5.2zM670.9 311.1l5.2 5.2l-5.2 5.2l-5.2 -5.2zM671.8 311.6l5.2 5.2l-5.2 5.2l-5.2 -5.2zM672.6 311.6l5.2 5.2l-5.2 5.2l-5.2 -5.2zM673.5 310.4l5.2 5.2l-5.2 5.2l-5.2 -5.2zM674.3 311.9l5.2 5.2l-5.2 5.2l-5.2 -5.2zM675.2 312l5.2 5.2l-5.2 5.2l-5.2 -5.2zM676 311.5l5.2 5.2l-5.2 5.2l-5.2 -5.2zM676.8 309.7l5.2 5.2l-5.2 5.2l-5.2 -5.2zM677.7 312.5l5.2 5.2l-5.2 5.2l-5.2 -5.2zM678.5 312.6l5.2 5.2l-5.2 5.2l-5.2 -5.2zM679.4 310.4l5.2 5.2l-5.2 5.2l-5.2 -5.2zM680.2 312.1l5.2 5.2l-5.2 5.2l-5.2 -5.2zM681.1 310l5.2 5.2l-5.2 5.2l-5.2 -5.2zM681.9 312.4l5.2 5.2l-5.2 5.2l-5.2 -5.2zM682.8 311.4l5.2 5.2l-5.2 5.2l-5.2 -5.2zM683.6 310l5.2 5.2l-5.2 5.2l-5.2 -5.2zM684.4 313l5.2 5.2l-5.2 5.2l-5.2 -5.2zM685.3 309.9l5.2 5.2l-5.2 5.2l-5.2 -5.2zM686.1 309.7l5.2 5.2l-5.2 5.2l-5.2 -5.2zM687 310.3l5.2 5.2l-5.2 5.2l-5.2 -5.2zM687.8 310.4l5.2 5.2l-5.2 5.2l-5.2 -5.2zM688.7 311.2l5.2 5.2l-5.2 5.2l-5.2 -5.2zM689.5 310.5l5.2 5.2l-5.2 5.2l-5.2 -5.2zM690.4 311.9l5.2 5.2l-5.2 5.2l-5.2 -5.2zM691.2 312.3l5.2 5.2l-5.2 5.2l-5.2 -5.2zM692.1 311.6l5.2 5.2l-5.2 5.2l-5.2 -5.2zM692.9 309.8l5.2 5.2l-5.2 5.2l-5.2 -5.2zM693.7 312.6l5.2 5.2l-5.2 5.2l-5.2 -5.2zM694.6 309.6l5.2 5.2l-5.2 5.2l-5.2 -5.2zM695.4 312l5.2 5.2l-5.2 5.2l-5.2 -5.2zM696.3 310.2l5.2 5.2l-5.2 5.2l-5.2 -5.2zM697.1 310.1l5.2 5.2l-5.2 5.2l-5.2 -5.2zM698 309.4l5.2 5.2l-5.2 5.2l-5.2 -5.2zM698.8 312.8l5.2 5.2l-5.2 5.2l-5.2 -5.2zM699.7 311.3l5.2 5.2l-5.2 5.2l-5.2 -5.2zM700.5 311.8l5.2 5.2l-5.2 5.2l-5.2 -5.2zM701.3 309.4l5.2 5.2l-5.2 5.2l-5.2 -5.2zM702.2 310.1l5.2 5.2l-5.2 5.2l-5.2 -5.2zM703 310l5.2 5.2l-5.2 5.2l-5.2 -5.2zM703.9 311.9l5.2 5.2l-5.2 5.2l-5.2 -5.2zM704.7 309.8l5.2 5.2l-5.2 5.2l-5.2 -5.2zM705.6 311.3l5.2 5.2l-5.2 5.2l-5.2 -5.2zM706.4 309.4l5.2 5.2l-5.2 5.2l-5.2 -5.2zM707.3 309.7l5.2 5.2l-5.2 5.2l-5.2 -5.2zM708.1 310.7l5.2 5.2l-5.2 5.2l-5.2 -5.2zM709 313.3l5.2 5.2l-5.2 5.2l-5.2 -5.2zM709.8 312.2l5.2 5.2l-5.2 5.2l-5.2 -5.2zM710.6 312l5.2 5.2l-5.2 5.2l-5.2 -5.2zM711.5 311.2l5.2 5.2l-5.2 5.2l-5.2 -5.2zM712.3 314l5.2 5.2l-5.2 5.2l-5.2 -5.2zM713.2 311.1l5.2 5.2l-5.2 5.2l-5.2 -5.2zM714 309.8l5.2 5.2l-5.2 5.2l-5.2 -5.2zM714.9 310.1l5.2 5.2l-5.2 5.2l-5.2 -5.2zM715.7 311.4l5.2 5.2l-5.2 5.2l-5.2 -5.2zM716.6 309.1l5.2 5.2l-5.2 5.2l-5.2 -5.2zM717.4 311l5.2 5.2l-5.2 5.2l-5.2 -5.2zM718.2 309.7l5.2 5.2l-5.2 5.2l-5.2 -5.2zM719.1 309.5l5.2 5.2l-5.2 5.2l-5.2 -5.2zM719.9 312l5.2 5.2l-5.2 5.2l-5.2 -5.2zM720.8 310.3l5.2 5.2l-5.2 5.2l-5.2 -5.2zM721.6 310.7l5.2 5.2l-5.2 5.2l-5.2 -5.2zM722.5 311.7l5.2 5.2l-5.2 5.2l-5.2 -5.2zM723.3 314.4l5.2 5.2l-5.2 5.2l-5.2 -5.2zM724.2 311.5l5.2 5.2l-5.2 5.2l-5.2 -5.2zM725 311.8l5.2 5.2l-5.2 5.2l-5.2 -5.2zM725.9 312.7l5.2 5.2l-5.2 5.2l-5.2 -5.2zM726.7 312.9l5.2 5.2l-5.2 5.2l-5.2 -5.2zM727.5 309.5l5.2 5.2l-5.2 5.2l-5.2 -5.2zM728.4 310.7l5.2 5.2l-5.2 5.2l-5.2 -5.2zM729.2 313.5l5.2 5.2l-5.2 5.2l-5.2 -5.2zM730.1 309.1l5.2 5.2l-5.2 5.2l-5.2 -5.2zM730.9 311.1l5.2 5.2l-5.2 5.2l-5.2 -5.2zM731.8 313.6l5.2 5.2l-5.2 5.2l-5.2 -5.2zM732.6 312.1l5.2 5.2l-5.2 5.2l-5.2 -5.2zM733.5 310.3l5.2 5.2l-5.2 5.2l-5.2 -5.2zM734.3 309.6l5.2 5.2l-5.2 5.2l-5.2 -5.2zM735.1 310.7l5.2 5.2l-5.2 5.2l-5.2 -5.2zM736 312.3l5.2 5.2l-5.2 5.2l-5.2 -5.2zM736.8 311.4l5.2 5.2l-5.2 5.2l-5.2 -5.2zM737.7 311.1l5.2 5.2l-5.2 5.2l-5.2 -5.2zM738.5 312.5l5.2 5.2l-5.2 5.2l-5.2 -5.2zM739.4 311.6l5.2 5.2l-5.2 5.2l-5.2 -5.2zM740.2 311l5.2 5.2l-5.2 5.2l-5.2 -5.2zM741.1 310l5.2 5.2l-5.2 5.2l-5.2 -5.2zM135.5 352l5.2 5.2l-5.2 5.2l-5.2 -5.2zM137 354.5l5.2 5.2l-5.2 5.2l-5.2 -5.2zM137.1 357l5.2 5.2l-5.2 5.2l-5.2 -5.2zM136.8 359.5l5.2 5.2l-5.2 5.2l-5.2 -5.2zM136.8 362l5.2 5.2l-5.2 5.2l-5.2 -5.2zM136.8 364.5l5.2 5.2l-5.2 5.2l-5.2 -5.2zM136.4 366.1l5.2 5.2l-5.2 5.2l-5.2 -5.2zM232.8 351.8l5.2 5.2l-5.2 5.2l-5.2 -5.2zM233 354.3l5.2 5.2l-5.2 5.2l-5.2 -5.2zM233.8 356.8l5.2 5.2l-5.2 5.2l-5.2 -5.2zM233.2 359.3l5.2 5.2l-5.2 5.2l-5.2 -5.2zM231.9 361.8l5.2 5.2l-5.2 5.2l-5.2 -5.2zM232.6 364.3l5.2 5.2l-5.2 5.2l-5.2 -5.2zM233 365.2l5.2 5.2l-5.2 5.2l-5.2 -5.2zM305.3 362.8l5.2 5.2l-5.2 5.2l-5.2 -5.2zM305 363.2l5.2 5.2l-5.2 5.2l-5.2 -5.2zM302.5 360l5.2 5.2l-5.2 5.2l-5.2 -5.2zM303.6 360.8l5.2 5.2l-5.2 5.2l-5.2 -5.2zM305.5 357.2l5.2 5.2l-5.2 5.2l-5.2 -5.2zM305.3 359.7l5.2 5.2l-5.2 5.2l-5.2 -5.2zM306.4 360.8l5.2 5.2l-5.2 5.2l-5.2 -5.2zM343.1 338.3l5.2 5.2l-5.2 5.2l-5.2 -5.2zM341.9 340.8l5.2 5.2l-5.2 5.2l-5.2 -5.2zM342.5 343.3l5.2 5.2l-5.2 5.2l-5.2 -5.2zM341.9 345.8l5.2 5.2l-5.2 5.2l-5.2 -5.2zM343.2 348.3l5.2 5.2l-5.2 5.2l-5.2 -5.2zM342.8 350.8l5.2 5.2l-5.2 5.2l-5.2 -5.2zM341.9 353.3l5.2 5.2l-5.2 5.2l-5.2 -5.2zM342.3 355.8l5.2 5.2l-5.2 5.2l-5.2 -5.2zM343 356.8l5.2 5.2l-5.2 5.2l-5.2 -5.2zM371.3 338.4l5.2 5.2l-5.2 5.2l-5.2 -5.2zM370 340.9l5.2 5.2l-5.2 5.2l-5.2 -5.2zM370.6 343.4l5.2 5.2l-5.2 5.2l-5.2 -5.2zM369.9 345.9l5.2 5.2l-5.2 5.2l-5.2 -5.2zM370 348.4l5.2 5.2l-5.2 5.2l-5.2 -5.2zM371.9 350.9l5.2 5.2l-5.2 5.2l-5.2 -5.2zM371 351.2l5.2 5.2l-5.2 5.2l-5.2 -5.2zM415.2 338.7l5.2 5.2l-5.2 5.2l-5.2 -5.2zM415.6 341.2l5.2 5.2l-5.2 5.2l-5.2 -5.2zM416.4 343.7l5.2 5.2l-5.2 5.2l-5.2 -5.2zM416 346.2l5.2 5.2l-5.2 5.2l-5.2 -5.2zM417 348.7l5.2 5.2l-5.2 5.2l-5.2 -5.2zM416 349.8l5.2 5.2l-5.2 5.2l-5.2 -5.2zM436.4 338.8l5.2 5.2l-5.2 5.2l-5.2 -5.2zM436.5 341.3l5.2 5.2l-5.2 5.2l-5.2 -5.2zM435.9 343.8l5.2 5.2l-5.2 5.2l-5.2 -5.2zM435.5 346.3l5.2 5.2l-5.2 5.2l-5.2 -5.2zM436 347.2l5.2 5.2l-5.2 5.2l-5.2 -5.2zM456.4 339l5.2 5.2l-5.2 5.2l-5.2 -5.2zM455.1 341.5l5.2 5.2l-5.2 5.2l-5.2 -5.2zM455.4 344l5.2 5.2l-5.2 5.2l-5.2 -5.2zM456.6 346.5l5.2 5.2l-5.2 5.2l-5.2 -5.2zM456 348.2l5.2 5.2l-5.2 5.2l-5.2 -5.2zM485.5 339.1l5.2 5.2l-5.2 5.2l-5.2 -5.2zM485.5 341.6l5.2 5.2l-5.2 5.2l-5.2 -5.2zM486.9 344.1l5.2 5.2l-5.2 5.2l-5.2 -5.2zM486 346.2l5.2 5.2l-5.2 5.2l-5.2 -5.2zM604.7 321.2l5.2 5.2l-5.2 5.2l-5.2 -5.2zM605.5 323.8l5.2 5.2l-5.2 5.2l-5.2 -5.2zM606.1 326.2l5.2 5.2l-5.2 5.2l-5.2 -5.2zM604.5 328.8l5.2 5.2l-5.2 5.2l-5.2 -5.2zM606.3 331.2l5.2 5.2l-5.2 5.2l-5.2 -5.2zM605.6 332.2l5.2 5.2l-5.2 5.2l-5.2 -5.2zM657.1 311.2l5.2 5.2l-5.2 5.2l-5.2 -5.2zM656.4 313.8l5.2 5.2l-5.2 5.2l-5.2 -5.2zM655.9 316.2l5.2 5.2l-5.2 5.2l-5.2 -5.2zM656.3 318.8l5.2 5.2l-5.2 5.2l-5.2 -5.2zM656.4 321.2l5.2 5.2l-5.2 5.2l-5.2 -5.2zM655.8 323.8l5.2 5.2l-5.2 5.2l-5.2 -5.2zM656 326.2l5.2 5.2l-5.2 5.2l-5.2 -5.2zM315.6 349.4l5.2 5.2l-5.2 5.2l-5.2 -5.2zM314.5 351.8l5.2 5.2l-5.2 5.2l-5.2 -5.2z" fill="#4a7fbb"/>
<path d="M105.2 322.0H128.9V335.0H105.2zM120.6 304.0H129.6V313.0H120.6zM132.0 296.2H141.0V305.2H132.0zM132.2 324.0H141.2V333.0H132.2zM228.5 289.5H237.5V298.5H228.5zM229.0 295.5H238.0V304.5H229.0zM228.3 321.0H237.3V330.0H228.3zM339.8 251.0H348.8V260.0H339.8zM339.8 261.0H348.8V270.0H339.8zM301.5 266.5H310.5V275.5H301.5zM301.5 275.5H310.5V284.5H301.5zM300.5 280.5H309.5V289.5H300.5zM311.5 267.5H320.5V276.5H311.5zM300.5 300.5H309.5V309.5H300.5zM300.5 311.5H309.5V320.5H300.5zM653.0 143.0H662.0V152.0H653.0zM654.5 139.0H663.5V148.0H654.5zM121.5 260.2H123.4V246.3H126.4V246.6H131.0V253.7H135.8V258.6H140.6V259.5H145.2V259.5H150.0V258.9H154.7V252.1H158.4V251.0H161.4V259.1H165.3V258.6H168.5V259.0H171.1V259.2H175.6V252.7H178.8V251.7H181.6V252.4H184.1V256.2H189.8V253.1H193.1V252.1H197.4V257.1H200.0V258.4H204.1V258.1H208.7V259.0H211.4V261.0H214.6V259.0H217.3V258.9H221.9V259.9H226.6V260.8H230.0V259.7H235.3V253.1H239.0V253.0H242.9V257.1H247.9V255.7H250.5V252.2H255.7V250.6H261.0V251.5H263.7V280.3H259.4V281.2H256.3V281.7H253.1V280.8H250.4V280.3H247.3V282.1H242.6V281.5H237.9V282.0H235.3V280.9H230.9V282.2H225.8V286.7H219.5V285.1H216.3V280.2H213.5V280.5H209.8V279.8H205.6V279.4H201.4V279.1H197.7V280.8H194.5V280.7H191.2V280.6H187.2V281.1H182.1V280.2H178.2V278.9H174.1V280.9H170.8V280.3H164.3V282.0H161.6V280.0H159.0V281.6H155.7V287.6H151.6V287.2H146.2V281.2H141.3V282.9H138.3V281.0H135.8V286.4H133.3V287.6H129.3V287.5H124.4V282.2H121.5zM263.0 222.0H269.0V282.0H263.0zM268.0 195.5H289.5V238.0H268.0zM289.0 174.6H303.3V250.0H289.0zM292.6 162.3H301.0V176.0H292.6zM303.0 197.0H311.0V250.0H303.0zM310.7 183.0H320.2V250.0H310.7zM320.0 197.0H322.5V250.0H320.0zM320.0 197.3H325.1V197.6H327.9V197.2H332.3V197.5H336.7V197.7H340.8V197.9H344.6V204.0H348.4V198.2H351.6V199.1H355.9V197.4H359.8V198.2H362.7V206.7H365.4V206.7H370.1V207.3H375.0V198.2H378.5V198.1H381.3V197.9H386.4V198.9H391.7V198.4H395.5V197.8H399.6V201.8H404.1V203.2H409.5V202.5H414.8V198.4H418.7V198.8H423.3V203.6H426.3V204.8H431.8V197.5H436.8V198.0H440.4V206.6H443.9V206.5H447.4V205.6H452.3V206.5H456.2V206.0H458.4V199.9H461.2V201.0H465.1V199.8H468.9V200.7H472.3V199.8H474.9V200.1H480.0V234.0H476.2V234.2H473.6V240.8H471.5V241.6H467.7V241.3H464.1V246.4H459.6V246.9H455.3V246.0H452.7V237.8H450.6V237.5H445.8V237.6H441.3V247.3H438.8V247.3H433.7V236.5H430.5V236.5H426.2V236.8H421.4V254.1H418.1V253.2H412.9V237.5H409.1V253.3H403.9V253.2H399.7V252.7H395.7V252.5H390.8V253.9H388.2V244.9H381.3V245.3H376.4V244.1H372.8V244.7H369.3V230.7H364.0V231.4H361.3V230.1H358.3V230.1H353.9V232.1H351.3V244.8H345.2V246.1H340.9V241.3H336.9V240.4H332.8V240.7H328.5V236.1H323.6V236.2H320.0zM479.6 200.7H484.5V200.7H487.0V202.2H489.1V197.4H492.5V198.3H496.1V197.7H498.6V201.3H501.6V201.5H506.1V203.1H510.2V202.9H513.2V234.9H510.0V237.8H507.4V236.7H502.9V237.5H499.5V244.9H496.5V246.0H491.0V255.0H488.3V254.3H484.7V255.5H481.5V240.1H479.6zM505.4 160.0H516.8V187.4H505.4zM510.0 120.0H530.0V142.5H510.0zM518.7 99.2H530.0V125.0H518.7zM516.8 139.9H521.0V141.0H524.6V140.0H527.4V140.2H530.1V142.7H534.5V141.0H537.7V125.4H541.8V125.9H545.5V125.3H548.1V136.2H551.7V134.4H555.7V135.9H560.8V135.8H565.1V124.9H569.0V124.1H575.6V134.3H578.4V131.4H583.0V131.8H587.8V133.4H591.7V136.9H596.1V137.1H598.3V127.9H602.7V129.9H608.7V135.6H613.5V185.9H609.3V185.8H606.5V185.9H601.2V177.7H597.7V177.4H595.0V177.3H591.7V168.6H588.0V168.8H584.3V168.8H580.6V168.8H575.5V168.0H570.4V168.8H567.9V167.6H564.4V169.0H559.2V169.1H553.8V174.4H546.8V174.7H542.4V189.0H538.6V188.8H535.1V187.6H531.9V189.0H528.9V187.6H523.4V159.0H520.2V158.2H516.8zM616.5 90.7H626.5V158.0H616.5zM613.5 150.0H621.5V172.0H613.5zM611.0 165.0H617.5V185.5H611.0zM622.0 90.7H630.0V143.0H622.0zM621.4 90.8H626.7V91.0H629.2V90.4H633.5V90.4H636.7V91.5H640.3V91.0H644.5V91.5H649.8V90.6H654.1V91.6H656.7V91.5H661.1V91.2H664.9V91.3H667.6V90.4H673.0V90.6H676.6V91.0H680.4V90.9H683.4V90.9H688.5V90.7H691.2V92.1H695.6V91.6H698.8V91.7H701.7V90.9H704.6V91.9H710.1V90.6H714.4V91.1H717.4V90.3H721.2V90.3H725.3V91.9H730.3V91.0H734.0V90.3H738.8V90.8H741.3V90.2H746.5V135.3H744.4V135.7H739.8V134.6H735.1V128.1H732.6V127.3H728.5V128.1H724.4V127.1H721.8V139.0H719.2V137.7H715.5V139.2H712.4V131.8H707.9V132.0H703.1V130.7H699.1V120.7H693.6V120.7H689.6V132.0H685.3V133.4H680.1V128.9H677.9V129.0H673.4V128.6H670.5V128.9H667.3V128.4H662.2V129.0H657.7V129.3H654.9V129.9H651.7V131.7H649.3V132.5H646.4V133.1H641.3V132.8H638.3V132.5H635.0V131.7H629.9V137.9H626.3V138.3H621.4z" fill="#c04f4b" fill-rule="nonzero"/>
<path d="M109 346.8l4.7 9.6h-9.4zM109.8 346.8l4.7 9.6h-9.4zM110.7 346.8l4.7 9.6h-9.4zM111.5 346.8l4.7 9.6h-9.4zM112.4 346.8l4.7 9.6h-9.4zM113.2 346.8l4.7 9.6h-9.4zM114.1 346.8l4.7 9.6h-9.4zM114.9 346.8l4.7 9.6h-9.4zM115.8 346.8l4.7 9.6h-9.4zM116.6 346.8l4.7 9.6h-9.4zM117.4 346.8l4.7 9.6h-9.4zM118.3 346.8l4.7 9.6h-9.4zM119.1 346.8l4.7 9.6h-9.4zM120 346.8l4.7 9.6h-9.4zM120.8 346.8l4.7 9.6h-9.4zM121.7 346.8l4.7 9.6h-9.4zM122.5 346.8l4.7 9.6h-9.4zM123.4 346.8l4.7 9.6h-9.4zM127.6 305.5l4.7 9.6h-9.4zM128.4 309.2l4.7 9.6h-9.4zM128.4 310.5l4.7 9.6h-9.4zM128.4 305.5l4.7 9.6h-9.4zM129.3 309.2l4.7 9.6h-9.4zM129.3 310.5l4.7 9.6h-9.4zM129.3 305.5l4.7 9.6h-9.4zM130.1 309.2l4.7 9.6h-9.4zM130.1 310.5l4.7 9.6h-9.4zM130.1 305.5l4.7 9.6h-9.4zM131 309.2l4.7 9.6h-9.4zM131 310.5l4.7 9.6h-9.4zM131 305.5l4.7 9.6h-9.4zM131.8 309.2l4.7 9.6h-9.4zM131.8 310.5l4.7 9.6h-9.4zM131.8 305.5l4.7 9.6h-9.4zM132.7 309.2l4.7 9.6h-9.4zM132.7 310.5l4.7 9.6h-9.4zM132.7 305.5l4.7 9.6h-9.4zM133.5 309.2l4.7 9.6h-9.4zM133.5 310.5l4.7 9.6h-9.4zM133.5 305.5l4.7 9.6h-9.4zM134.3 309.2l4.7 9.6h-9.4zM134.3 310.5l4.7 9.6h-9.4zM134.3 305.5l4.7 9.6h-9.4zM135.2 309.2l4.7 9.6h-9.4zM135.2 310.5l4.7 9.6h-9.4zM135.2 305.5l4.7 9.6h-9.4zM136 309.2l4.7 9.6h-9.4zM136 310.5l4.7 9.6h-9.4zM136 305.5l4.7 9.6h-9.4zM136.9 309.2l4.7 9.6h-9.4zM136.9 310.5l4.7 9.6h-9.4zM136.9 305.5l4.7 9.6h-9.4zM137.7 309.2l4.7 9.6h-9.4zM137.7 310.5l4.7 9.6h-9.4zM137.7 305.5l4.7 9.6h-9.4zM138.6 309.2l4.7 9.6h-9.4zM138.6 310.5l4.7 9.6h-9.4zM138.6 305.5l4.7 9.6h-9.4zM139.4 309.2l4.7 9.6h-9.4zM139.4 310.5l4.7 9.6h-9.4zM139.4 305.5l4.7 9.6h-9.4zM140.3 309.2l4.7 9.6h-9.4zM140.3 310.5l4.7 9.6h-9.4zM140.3 305.5l4.7 9.6h-9.4zM141.1 309.2l4.7 9.6h-9.4zM141.1 310.5l4.7 9.6h-9.4zM141.1 305.5l4.7 9.6h-9.4zM142 309.2l4.7 9.6h-9.4zM142 310.5l4.7 9.6h-9.4zM142 305.5l4.7 9.6h-9.4zM142.8 309.2l4.7 9.6h-9.4zM142.8 310.5l4.7 9.6h-9.4zM142.8 305.5l4.7 9.6h-9.4zM143.6 309.2l4.7 9.6h-9.4zM143.6 310.5l4.7 9.6h-9.4zM144.5 309.2l4.7 9.6h-9.4zM144.5 310.5l4.7 9.6h-9.4zM145.3 309.2l4.7 9.6h-9.4zM145.3 310.5l4.7 9.6h-9.4zM146.2 309.2l4.7 9.6h-9.4zM146.2 310.5l4.7 9.6h-9.4zM147 309.2l4.7 9.6h-9.4zM147 310.5l4.7 9.6h-9.4zM147.9 309.2l4.7 9.6h-9.4zM147.9 310.5l4.7 9.6h-9.4zM148.7 309.2l4.7 9.6h-9.4zM148.7 310.5l4.7 9.6h-9.4zM149.6 309.2l4.7 9.6h-9.4zM149.6 310.5l4.7 9.6h-9.4zM150.4 309.2l4.7 9.6h-9.4zM150.4 310.5l4.7 9.6h-9.4zM151.2 309.2l4.7 9.6h-9.4zM151.2 310.5l4.7 9.6h-9.4zM152.1 309.2l4.7 9.6h-9.4zM152.1 310.5l4.7 9.6h-9.4zM152.9 309.2l4.7 9.6h-9.4zM152.9 310.5l4.7 9.6h-9.4zM153.8 309.2l4.7 9.6h-9.4zM153.8 310.5l4.7 9.6h-9.4zM154.6 309.2l4.7 9.6h-9.4zM154.6 310.5l4.7 9.6h-9.4zM155.5 309.2l4.7 9.6h-9.4zM155.5 310.5l4.7 9.6h-9.4zM156.3 309.2l4.7 9.6h-9.4zM156.3 310.5l4.7 9.6h-9.4zM157.2 309.2l4.7 9.6h-9.4zM157.2 310.5l4.7 9.6h-9.4zM158 309.2l4.7 9.6h-9.4zM158 310.5l4.7 9.6h-9.4zM158.9 309.2l4.7 9.6h-9.4zM158.9 310.5l4.7 9.6h-9.4zM159.7 309.2l4.7 9.6h-9.4zM159.7 310.5l4.7 9.6h-9.4zM160.5 309.2l4.7 9.6h-9.4zM160.5 310.5l4.7 9.6h-9.4zM161.4 309.2l4.7 9.6h-9.4zM161.4 310.5l4.7 9.6h-9.4zM162.2 309.2l4.7 9.6h-9.4zM162.2 310.5l4.7 9.6h-9.4zM163.1 309.2l4.7 9.6h-9.4zM163.1 310.5l4.7 9.6h-9.4zM163.9 309.2l4.7 9.6h-9.4zM163.9 310.5l4.7 9.6h-9.4zM164.8 309.2l4.7 9.6h-9.4zM164.8 310.5l4.7 9.6h-9.4zM165.6 309.2l4.7 9.6h-9.4zM165.6 310.5l4.7 9.6h-9.4zM166.5 309.2l4.7 9.6h-9.4zM166.5 310.5l4.7 9.6h-9.4zM167.3 309.2l4.7 9.6h-9.4zM167.3 310.5l4.7 9.6h-9.4zM168.1 309.2l4.7 9.6h-9.4zM168.1 310.5l4.7 9.6h-9.4zM169 309.2l4.7 9.6h-9.4zM169 310.5l4.7 9.6h-9.4zM169.8 309.2l4.7 9.6h-9.4zM169.8 310.5l4.7 9.6h-9.4zM170.7 309.2l4.7 9.6h-9.4zM170.7 310.5l4.7 9.6h-9.4zM171.5 309.2l4.7 9.6h-9.4zM171.5 310.5l4.7 9.6h-9.4zM172.4 309.2l4.7 9.6h-9.4zM172.4 310.5l4.7 9.6h-9.4zM173.2 309.2l4.7 9.6h-9.4zM173.2 310.5l4.7 9.6h-9.4zM174.1 309.2l4.7 9.6h-9.4zM174.1 310.5l4.7 9.6h-9.4zM174.9 309.2l4.7 9.6h-9.4zM174.9 310.5l4.7 9.6h-9.4zM175.8 309.2l4.7 9.6h-9.4zM175.8 310.5l4.7 9.6h-9.4zM176.6 309.2l4.7 9.6h-9.4zM176.6 310.5l4.7 9.6h-9.4zM177.4 309.2l4.7 9.6h-9.4zM177.4 310.5l4.7 9.6h-9.4zM178.3 309.2l4.7 9.6h-9.4zM178.3 310.5l4.7 9.6h-9.4zM179.1 309.2l4.7 9.6h-9.4zM179.1 310.5l4.7 9.6h-9.4zM180 309.2l4.7 9.6h-9.4zM180 310.5l4.7 9.6h-9.4zM180.8 309.2l4.7 9.6h-9.4zM180.8 310.5l4.7 9.6h-9.4zM181.7 309.2l4.7 9.6h-9.4zM181.7 310.5l4.7 9.6h-9.4zM182.5 309.2l4.7 9.6h-9.4zM182.5 310.5l4.7 9.6h-9.4zM183.4 309.2l4.7 9.6h-9.4zM183.4 310.5l4.7 9.6h-9.4zM184.2 309.2l4.7 9.6h-9.4zM184.2 310.5l4.7 9.6h-9.4zM185 309.2l4.7 9.6h-9.4zM185 310.5l4.7 9.6h-9.4zM185.9 309.2l4.7 9.6h-9.4zM185.9 310.5l4.7 9.6h-9.4zM186.7 309.2l4.7 9.6h-9.4zM186.7 310.5l4.7 9.6h-9.4zM187.6 309.2l4.7 9.6h-9.4zM187.6 310.5l4.7 9.6h-9.4zM188.4 309.2l4.7 9.6h-9.4zM188.4 310.5l4.7 9.6h-9.4zM189.3 309.2l4.7 9.6h-9.4zM189.3 310.5l4.7 9.6h-9.4zM190.1 309.2l4.7 9.6h-9.4zM190.1 310.5l4.7 9.6h-9.4zM191 309.2l4.7 9.6h-9.4zM191 310.5l4.7 9.6h-9.4zM191.8 309.2l4.7 9.6h-9.4zM191.8 310.5l4.7 9.6h-9.4zM192.7 309.2l4.7 9.6h-9.4zM192.7 310.5l4.7 9.6h-9.4zM193.5 309.2l4.7 9.6h-9.4zM193.5 310.5l4.7 9.6h-9.4zM194.3 309.2l4.7 9.6h-9.4zM194.3 310.5l4.7 9.6h-9.4zM195.2 309.2l4.7 9.6h-9.4zM195.2 310.5l4.7 9.6h-9.4zM196 309.2l4.7 9.6h-9.4zM196 310.5l4.7 9.6h-9.4zM196.9 309.2l4.7 9.6h-9.4zM196.9 310.5l4.7 9.6h-9.4zM197.7 309.2l4.7 9.6h-9.4zM197.7 310.5l4.7 9.6h-9.4zM198.6 309.2l4.7 9.6h-9.4zM198.6 310.5l4.7 9.6h-9.4zM199.4 309.2l4.7 9.6h-9.4zM199.4 310.5l4.7 9.6h-9.4zM200.3 309.2l4.7 9.6h-9.4zM200.3 310.5l4.7 9.6h-9.4zM201.1 309.2l4.7 9.6h-9.4zM201.1 310.5l4.7 9.6h-9.4zM201.9 309.2l4.7 9.6h-9.4zM201.9 310.5l4.7 9.6h-9.4zM202.8 309.2l4.7 9.6h-9.4zM202.8 310.5l4.7 9.6h-9.4zM203.6 309.2l4.7 9.6h-9.4zM203.6 310.5l4.7 9.6h-9.4zM204.5 309.2l4.7 9.6h-9.4zM204.5 310.5l4.7 9.6h-9.4zM205.3 309.2l4.7 9.6h-9.4zM205.3 310.5l4.7 9.6h-9.4zM206.2 309.2l4.7 9.6h-9.4zM206.2 310.5l4.7 9.6h-9.4zM207 309.2l4.7 9.6h-9.4zM207 310.5l4.7 9.6h-9.4zM207.9 309.2l4.7 9.6h-9.4zM207.9 310.5l4.7 9.6h-9.4zM208.7 309.2l4.7 9.6h-9.4zM208.7 310.5l4.7 9.6h-9.4zM209.6 309.2l4.7 9.6h-9.4zM209.6 310.5l4.7 9.6h-9.4zM210.4 309.2l4.7 9.6h-9.4zM210.4 310.5l4.7 9.6h-9.4zM211.2 309.2l4.7 9.6h-9.4zM211.2 310.5l4.7 9.6h-9.4zM212.1 309.2l4.7 9.6h-9.4zM212.1 310.5l4.7 9.6h-9.4zM212.9 309.2l4.7 9.6h-9.4zM212.9 310.5l4.7 9.6h-9.4zM213.8 309.2l4.7 9.6h-9.4zM213.8 310.5l4.7 9.6h-9.4zM214.6 309.2l4.7 9.6h-9.4zM214.6 310.5l4.7 9.6h-9.4zM215.5 309.2l4.7 9.6h-9.4zM215.5 310.5l4.7 9.6h-9.4zM216.3 309.2l4.7 9.6h-9.4zM216.3 310.5l4.7 9.6h-9.4zM217.2 309.2l4.7 9.6h-9.4zM217.2 310.5l4.7 9.6h-9.4zM218 309.2l4.7 9.6h-9.4zM218 310.5l4.7 9.6h-9.4zM218.8 309.2l4.7 9.6h-9.4zM218.8 310.5l4.7 9.6h-9.4zM219.7 309.2l4.7 9.6h-9.4zM219.7 310.5l4.7 9.6h-9.4zM220.5 309.2l4.7 9.6h-9.4zM220.5 310.5l4.7 9.6h-9.4zM221.4 309.2l4.7 9.6h-9.4zM221.4 310.5l4.7 9.6h-9.4zM222.2 309.2l4.7 9.6h-9.4zM222.2 310.5l4.7 9.6h-9.4zM223.1 309.2l4.7 9.6h-9.4zM223.1 310.5l4.7 9.6h-9.4zM223.9 309.2l4.7 9.6h-9.4zM223.9 310.5l4.7 9.6h-9.4zM224.8 309.2l4.7 9.6h-9.4zM224.8 310.5l4.7 9.6h-9.4zM225.6 309.2l4.7 9.6h-9.4zM225.6 310.5l4.7 9.6h-9.4zM226.5 309.2l4.7 9.6h-9.4zM226.5 310.5l4.7 9.6h-9.4zM227.3 309.2l4.7 9.6h-9.4zM227.3 310.5l4.7 9.6h-9.4zM228.1 309.2l4.7 9.6h-9.4zM228.1 310.5l4.7 9.6h-9.4zM229 309.2l4.7 9.6h-9.4zM229 310.5l4.7 9.6h-9.4zM229.8 309.2l4.7 9.6h-9.4zM229.8 310.5l4.7 9.6h-9.4zM230.7 309.2l4.7 9.6h-9.4zM230.7 310.5l4.7 9.6h-9.4zM231.5 309.2l4.7 9.6h-9.4zM231.5 310.5l4.7 9.6h-9.4zM232.4 309.2l4.7 9.6h-9.4zM232.4 310.5l4.7 9.6h-9.4zM233.2 309.2l4.7 9.6h-9.4zM233.2 310.5l4.7 9.6h-9.4zM234.1 309.2l4.7 9.6h-9.4zM234.1 310.5l4.7 9.6h-9.4zM234.9 309.2l4.7 9.6h-9.4zM234.9 310.5l4.7 9.6h-9.4zM235.7 309.2l4.7 9.6h-9.4zM235.7 310.5l4.7 9.6h-9.4zM236.6 309.2l4.7 9.6h-9.4zM236.6 310.5l4.7 9.6h-9.4zM237.4 309.2l4.7 9.6h-9.4zM237.4 310.5l4.7 9.6h-9.4zM238.3 309.2l4.7 9.6h-9.4zM238.3 310.5l4.7 9.6h-9.4zM239.1 309.2l4.7 9.6h-9.4zM239.1 310.5l4.7 9.6h-9.4zM240 309.2l4.7 9.6h-9.4zM240 310.5l4.7 9.6h-9.4zM240.8 309.2l4.7 9.6h-9.4zM240.8 310.5l4.7 9.6h-9.4zM241.7 309.2l4.7 9.6h-9.4zM241.7 310.5l4.7 9.6h-9.4zM242.5 309.2l4.7 9.6h-9.4zM242.5 310.5l4.7 9.6h-9.4zM243.4 309.2l4.7 9.6h-9.4zM243.4 310.5l4.7 9.6h-9.4zM244.2 309.2l4.7 9.6h-9.4zM244.2 310.5l4.7 9.6h-9.4zM245 309.2l4.7 9.6h-9.4zM245 310.5l4.7 9.6h-9.4zM245.9 309.2l4.7 9.6h-9.4zM245.9 310.5l4.7 9.6h-9.4zM246.7 309.2l4.7 9.6h-9.4zM246.7 310.5l4.7 9.6h-9.4zM247.6 309.2l4.7 9.6h-9.4zM247.6 310.5l4.7 9.6h-9.4zM248.4 309.2l4.7 9.6h-9.4zM248.4 310.5l4.7 9.6h-9.4zM249.3 309.2l4.7 9.6h-9.4zM249.3 310.5l4.7 9.6h-9.4zM250.1 309.2l4.7 9.6h-9.4zM250.1 310.5l4.7 9.6h-9.4zM251 309.2l4.7 9.6h-9.4zM251 310.5l4.7 9.6h-9.4zM251.8 309.2l4.7 9.6h-9.4zM251.8 310.5l4.7 9.6h-9.4zM252.6 309.2l4.7 9.6h-9.4zM252.6 310.5l4.7 9.6h-9.4zM253.5 309.2l4.7 9.6h-9.4zM253.5 310.5l4.7 9.6h-9.4zM254.3 309.2l4.7 9.6h-9.4zM254.3 310.5l4.7 9.6h-9.4zM255.2 309.2l4.7 9.6h-9.4zM255.2 310.5l4.7 9.6h-9.4zM256 309.2l4.7 9.6h-9.4zM256 310.5l4.7 9.6h-9.4zM256.9 309.2l4.7 9.6h-9.4zM256.9 310.5l4.7 9.6h-9.4zM257.7 309.2l4.7 9.6h-9.4zM257.7 310.5l4.7 9.6h-9.4zM258.6 309.2l4.7 9.6h-9.4zM258.6 310.5l4.7 9.6h-9.4zM259.4 309.2l4.7 9.6h-9.4zM259.4 310.5l4.7 9.6h-9.4zM260.3 296l4.7 9.6h-9.4zM261.1 295.1l4.7 9.6h-9.4zM261.9 295.9l4.7 9.6h-9.4zM262.8 296.9l4.7 9.6h-9.4zM263.6 296.6l4.7 9.6h-9.4zM264.5 295.4l4.7 9.6h-9.4zM265.3 296l4.7 9.6h-9.4zM266.2 296l4.7 9.6h-9.4zM267 296.4l4.7 9.6h-9.4zM267.9 295.6l4.7 9.6h-9.4zM268.7 296.1l4.7 9.6h-9.4zM269.6 295.5l4.7 9.6h-9.4zM274.6 245.2l4.7 9.6h-9.4zM275.5 245.2l4.7 9.6h-9.4zM276.3 245.2l4.7 9.6h-9.4zM277.2 245.2l4.7 9.6h-9.4zM278 245.2l4.7 9.6h-9.4zM278.8 245.2l4.7 9.6h-9.4zM279.7 245.2l4.7 9.6h-9.4zM280.5 245.2l4.7 9.6h-9.4zM281.4 245.2l4.7 9.6h-9.4zM282.2 245.2l4.7 9.6h-9.4zM283.1 245.2l4.7 9.6h-9.4zM283.9 245.2l4.7 9.6h-9.4zM284.8 245.2l4.7 9.6h-9.4zM285.6 245.2l4.7 9.6h-9.4zM286.5 245.2l4.7 9.6h-9.4zM287.3 245.2l4.7 9.6h-9.4zM288.1 245.2l4.7 9.6h-9.4zM289 245.2l4.7 9.6h-9.4zM289.8 245.2l4.7 9.6h-9.4zM290.7 245.2l4.7 9.6h-9.4zM291.5 245.2l4.7 9.6h-9.4zM292.4 245.2l4.7 9.6h-9.4zM293.2 245.2l4.7 9.6h-9.4zM294.1 245.2l4.7 9.6h-9.4zM294.9 245.2l4.7 9.6h-9.4zM295.7 245.2l4.7 9.6h-9.4zM296.6 245.2l4.7 9.6h-9.4zM297.4 245.2l4.7 9.6h-9.4zM298.3 245.2l4.7 9.6h-9.4zM299.1 245.2l4.7 9.6h-9.4zM300 245.2l4.7 9.6h-9.4zM300.8 245.2l4.7 9.6h-9.4zM304.2 299.1l4.7 9.6h-9.4zM306.7 299.3l4.7 9.6h-9.4zM307.6 298.6l4.7 9.6h-9.4zM310.1 298.8l4.7 9.6h-9.4zM311 299.7l4.7 9.6h-9.4zM313.5 298.9l4.7 9.6h-9.4zM316 299.8l4.7 9.6h-9.4zM316.9 297.3l4.7 9.6h-9.4zM319.4 298.7l4.7 9.6h-9.4zM320.3 299l4.7 9.6h-9.4zM327 187.2l4.7 9.6h-9.4zM327.9 187.2l4.7 9.6h-9.4zM328.7 187.2l4.7 9.6h-9.4zM329.5 187.2l4.7 9.6h-9.4zM330.4 187.2l4.7 9.6h-9.4zM331.2 187.2l4.7 9.6h-9.4zM332.1 187.2l4.7 9.6h-9.4zM332.9 187.2l4.7 9.6h-9.4zM333.8 187.2l4.7 9.6h-9.4zM334.6 187.2l4.7 9.6h-9.4zM335.5 187.2l4.7 9.6h-9.4zM336.3 187.2l4.7 9.6h-9.4zM337.2 187.2l4.7 9.6h-9.4zM338 187.2l4.7 9.6h-9.4zM338.8 187.2l4.7 9.6h-9.4zM339.7 187.2l4.7 9.6h-9.4zM340.5 187.2l4.7 9.6h-9.4zM341.4 187.2l4.7 9.6h-9.4zM342.2 187.2l4.7 9.6h-9.4zM343.1 187.2l4.7 9.6h-9.4zM343.9 187.2l4.7 9.6h-9.4zM344.8 187.2l4.7 9.6h-9.4zM345.6 187.2l4.7 9.6h-9.4zM346.4 187.2l4.7 9.6h-9.4zM347.3 187.2l4.7 9.6h-9.4zM348.1 187.2l4.7 9.6h-9.4zM349 187.2l4.7 9.6h-9.4zM349.8 187.2l4.7 9.6h-9.4zM350.7 187.2l4.7 9.6h-9.4zM351.5 187.2l4.7 9.6h-9.4zM352.4 187.2l4.7 9.6h-9.4zM353.2 187.2l4.7 9.6h-9.4zM354.1 187.2l4.7 9.6h-9.4zM354.9 187.2l4.7 9.6h-9.4zM355.7 187.2l4.7 9.6h-9.4zM356.6 187.2l4.7 9.6h-9.4zM357.4 187.2l4.7 9.6h-9.4zM358.3 187.2l4.7 9.6h-9.4zM359.1 187.2l4.7 9.6h-9.4zM360 187.2l4.7 9.6h-9.4zM360.8 187.2l4.7 9.6h-9.4zM361.7 187.2l4.7 9.6h-9.4zM362.5 187.2l4.7 9.6h-9.4zM363.3 187.2l4.7 9.6h-9.4zM364.2 187.2l4.7 9.6h-9.4zM365 187.2l4.7 9.6h-9.4zM365.9 187.2l4.7 9.6h-9.4zM366.7 187.2l4.7 9.6h-9.4zM367.6 187.2l4.7 9.6h-9.4zM368.4 187.2l4.7 9.6h-9.4zM369.3 187.2l4.7 9.6h-9.4zM370.1 187.2l4.7 9.6h-9.4zM371 187.2l4.7 9.6h-9.4zM371.8 187.2l4.7 9.6h-9.4zM372.6 187.2l4.7 9.6h-9.4zM373.5 187.2l4.7 9.6h-9.4zM374.3 187.2l4.7 9.6h-9.4zM375.2 187.2l4.7 9.6h-9.4zM376 187.2l4.7 9.6h-9.4zM376.9 187.2l4.7 9.6h-9.4zM377.7 187.2l4.7 9.6h-9.4zM378.6 187.2l4.7 9.6h-9.4zM379.4 187.2l4.7 9.6h-9.4zM380.2 187.2l4.7 9.6h-9.4zM381.1 187.2l4.7 9.6h-9.4zM381.9 187.2l4.7 9.6h-9.4zM382.8 187.2l4.7 9.6h-9.4zM383.6 187.2l4.7 9.6h-9.4zM384.5 187.2l4.7 9.6h-9.4zM385.3 187.2l4.7 9.6h-9.4zM386.2 187.2l4.7 9.6h-9.4zM387 187.2l4.7 9.6h-9.4zM387.9 187.2l4.7 9.6h-9.4zM388.7 187.2l4.7 9.6h-9.4zM389.5 187.2l4.7 9.6h-9.4zM390.4 187.2l4.7 9.6h-9.4zM391.2 187.2l4.7 9.6h-9.4zM392.1 187.2l4.7 9.6h-9.4zM392.9 187.2l4.7 9.6h-9.4zM393.8 187.2l4.7 9.6h-9.4zM394.6 187.2l4.7 9.6h-9.4zM395.5 187.2l4.7 9.6h-9.4zM396.3 187.2l4.7 9.6h-9.4zM397.1 187.2l4.7 9.6h-9.4zM398 187.2l4.7 9.6h-9.4zM398.8 187.2l4.7 9.6h-9.4zM399.7 187.2l4.7 9.6h-9.4zM400.5 187.2l4.7 9.6h-9.4zM401.4 187.2l4.7 9.6h-9.4zM402.2 187.2l4.7 9.6h-9.4zM403.1 187.2l4.7 9.6h-9.4zM403.9 187.2l4.7 9.6h-9.4zM404.8 187.2l4.7 9.6h-9.4zM405.6 187.2l4.7 9.6h-9.4zM406.4 187.2l4.7 9.6h-9.4zM407.3 187.2l4.7 9.6h-9.4zM408.1 187.2l4.7 9.6h-9.4zM409 187.2l4.7 9.6h-9.4zM409.8 187.2l4.7 9.6h-9.4zM410.7 187.2l4.7 9.6h-9.4zM411.5 187.2l4.7 9.6h-9.4zM412.4 187.2l4.7 9.6h-9.4zM413.2 187.2l4.7 9.6h-9.4zM414 187.2l4.7 9.6h-9.4zM414.9 187.2l4.7 9.6h-9.4zM415.7 187.2l4.7 9.6h-9.4zM416.6 187.2l4.7 9.6h-9.4zM417.4 187.2l4.7 9.6h-9.4zM418.3 187.2l4.7 9.6h-9.4zM419.1 187.2l4.7 9.6h-9.4zM420 187.2l4.7 9.6h-9.4zM420.8 187.2l4.7 9.6h-9.4zM421.7 187.2l4.7 9.6h-9.4zM422.5 187.2l4.7 9.6h-9.4zM423.3 187.2l4.7 9.6h-9.4zM424.2 187.2l4.7 9.6h-9.4zM425 187.2l4.7 9.6h-9.4zM425.9 187.2l4.7 9.6h-9.4zM426.7 187.2l4.7 9.6h-9.4zM427.6 187.2l4.7 9.6h-9.4zM428.4 187.2l4.7 9.6h-9.4zM429.3 187.2l4.7 9.6h-9.4zM430.1 187.2l4.7 9.6h-9.4zM430.9 187.2l4.7 9.6h-9.4zM431.8 187.2l4.7 9.6h-9.4zM432.6 187.2l4.7 9.6h-9.4zM433.5 187.2l4.7 9.6h-9.4zM434.3 187.2l4.7 9.6h-9.4zM435.2 187.2l4.7 9.6h-9.4zM436 187.2l4.7 9.6h-9.4zM436.9 187.2l4.7 9.6h-9.4zM437.7 187.2l4.7 9.6h-9.4zM438.6 187.2l4.7 9.6h-9.4zM439.4 187.2l4.7 9.6h-9.4zM440.2 187.2l4.7 9.6h-9.4zM441.1 187.2l4.7 9.6h-9.4zM441.9 187.2l4.7 9.6h-9.4zM442.8 187.2l4.7 9.6h-9.4zM443.6 187.2l4.7 9.6h-9.4zM444.5 187.2l4.7 9.6h-9.4zM445.3 187.2l4.7 9.6h-9.4zM446.2 187.2l4.7 9.6h-9.4zM447 187.2l4.7 9.6h-9.4zM447.8 187.2l4.7 9.6h-9.4zM448.7 187.2l4.7 9.6h-9.4zM449.5 187.2l4.7 9.6h-9.4zM450.4 187.2l4.7 9.6h-9.4zM451.2 187.2l4.7 9.6h-9.4zM452.1 187.2l4.7 9.6h-9.4zM452.9 187.2l4.7 9.6h-9.4zM453.8 187.2l4.7 9.6h-9.4zM454.6 187.2l4.7 9.6h-9.4zM455.5 187.2l4.7 9.6h-9.4zM456.3 187.2l4.7 9.6h-9.4zM457.1 187.2l4.7 9.6h-9.4zM458 187.2l4.7 9.6h-9.4zM458.8 187.2l4.7 9.6h-9.4zM459.7 187.2l4.7 9.6h-9.4zM460.5 187.2l4.7 9.6h-9.4zM461.4 187.2l4.7 9.6h-9.4zM462.2 187.2l4.7 9.6h-9.4zM463.1 187.2l4.7 9.6h-9.4zM463.9 187.2l4.7 9.6h-9.4zM464.7 187.2l4.7 9.6h-9.4zM465.6 187.2l4.7 9.6h-9.4zM466.4 187.2l4.7 9.6h-9.4zM467.3 187.2l4.7 9.6h-9.4zM468.1 187.2l4.7 9.6h-9.4zM469 187.2l4.7 9.6h-9.4zM469.8 187.2l4.7 9.6h-9.4zM470.7 187.2l4.7 9.6h-9.4zM471.5 187.2l4.7 9.6h-9.4zM472.4 187.2l4.7 9.6h-9.4zM473.2 187.2l4.7 9.6h-9.4zM474 187.2l4.7 9.6h-9.4zM474.9 187.2l4.7 9.6h-9.4zM475.7 187.2l4.7 9.6h-9.4zM476.6 187.2l4.7 9.6h-9.4zM477.4 187.2l4.7 9.6h-9.4zM478.3 187.2l4.7 9.6h-9.4zM479.1 187.2l4.7 9.6h-9.4zM480 187.2l4.7 9.6h-9.4zM480.8 187.2l4.7 9.6h-9.4zM481.6 187.2l4.7 9.6h-9.4zM482.5 187.2l4.7 9.6h-9.4zM483.3 187.2l4.7 9.6h-9.4zM484.2 187.2l4.7 9.6h-9.4zM485 187.2l4.7 9.6h-9.4zM485.9 187.2l4.7 9.6h-9.4zM486.7 187.2l4.7 9.6h-9.4zM487.6 187.2l4.7 9.6h-9.4zM488.4 187.2l4.7 9.6h-9.4zM489.3 187.2l4.7 9.6h-9.4zM490.1 187.2l4.7 9.6h-9.4zM490.9 187.2l4.7 9.6h-9.4zM491.8 187.2l4.7 9.6h-9.4zM492.6 187.2l4.7 9.6h-9.4zM493.5 187.2l4.7 9.6h-9.4zM494.3 187.2l4.7 9.6h-9.4zM495.2 187.2l4.7 9.6h-9.4zM496 187.2l4.7 9.6h-9.4zM496.9 187.2l4.7 9.6h-9.4zM497.7 187.2l4.7 9.6h-9.4zM498.5 187.2l4.7 9.6h-9.4zM499.4 187.2l4.7 9.6h-9.4zM500.2 187.2l4.7 9.6h-9.4zM501.1 187.2l4.7 9.6h-9.4zM501.9 187.2l4.7 9.6h-9.4zM502.8 187.2l4.7 9.6h-9.4zM503.6 187.2l4.7 9.6h-9.4zM504.5 187.2l4.7 9.6h-9.4zM505.3 187.2l4.7 9.6h-9.4zM506.2 187.2l4.7 9.6h-9.4zM507 187.2l4.7 9.6h-9.4zM507.8 187.2l4.7 9.6h-9.4zM508.7 187.2l4.7 9.6h-9.4zM511.2 143.7l4.7 9.6h-9.4zM512.1 143.7l4.7 9.6h-9.4zM512.9 143.7l4.7 9.6h-9.4zM513.8 143.7l4.7 9.6h-9.4zM514.6 143.7l4.7 9.6h-9.4zM515.4 143.7l4.7 9.6h-9.4zM516.3 143.7l4.7 9.6h-9.4zM517.1 143.7l4.7 9.6h-9.4zM518 143.7l4.7 9.6h-9.4zM518.8 143.7l4.7 9.6h-9.4zM519.7 143.7l4.7 9.6h-9.4zM520.5 143.7l4.7 9.6h-9.4zM521.4 143.7l4.7 9.6h-9.4zM522.2 143.7l4.7 9.6h-9.4zM523.1 143.7l4.7 9.6h-9.4zM523.9 143.7l4.7 9.6h-9.4zM524.7 143.7l4.7 9.6h-9.4zM525.6 143.7l4.7 9.6h-9.4zM526.4 143.7l4.7 9.6h-9.4zM527.3 143.7l4.7 9.6h-9.4zM528.1 143.7l4.7 9.6h-9.4zM529 143.7l4.7 9.6h-9.4zM529.8 143.7l4.7 9.6h-9.4zM530.7 143.7l4.7 9.6h-9.4zM531.5 143.7l4.7 9.6h-9.4zM532.3 143.7l4.7 9.6h-9.4zM533.2 143.7l4.7 9.6h-9.4zM534 143.7l4.7 9.6h-9.4zM534.9 143.7l4.7 9.6h-9.4zM535.7 143.7l4.7 9.6h-9.4zM536.6 143.7l4.7 9.6h-9.4zM537.4 143.7l4.7 9.6h-9.4zM538.3 143.7l4.7 9.6h-9.4zM539.1 143.7l4.7 9.6h-9.4zM540 143.7l4.7 9.6h-9.4zM540.8 143.7l4.7 9.6h-9.4zM541.6 143.7l4.7 9.6h-9.4zM542.5 143.7l4.7 9.6h-9.4zM543.3 143.7l4.7 9.6h-9.4zM544.2 143.7l4.7 9.6h-9.4zM545 143.7l4.7 9.6h-9.4zM545.9 143.7l4.7 9.6h-9.4zM546.7 143.7l4.7 9.6h-9.4zM547.6 143.7l4.7 9.6h-9.4zM548.4 143.7l4.7 9.6h-9.4zM549.2 143.7l4.7 9.6h-9.4zM550.1 143.7l4.7 9.6h-9.4zM550.9 143.7l4.7 9.6h-9.4zM551.8 143.7l4.7 9.6h-9.4zM552.6 143.7l4.7 9.6h-9.4zM553.5 143.7l4.7 9.6h-9.4zM554.3 143.7l4.7 9.6h-9.4zM555.2 143.7l4.7 9.6h-9.4zM556 143.7l4.7 9.6h-9.4zM556.9 143.7l4.7 9.6h-9.4zM557.7 143.7l4.7 9.6h-9.4zM558.5 143.7l4.7 9.6h-9.4zM559.4 143.7l4.7 9.6h-9.4zM560.2 143.7l4.7 9.6h-9.4zM561.1 143.7l4.7 9.6h-9.4zM561.9 143.7l4.7 9.6h-9.4zM562.8 143.7l4.7 9.6h-9.4zM563.6 143.7l4.7 9.6h-9.4zM564.5 143.7l4.7 9.6h-9.4zM565.3 143.7l4.7 9.6h-9.4zM566.1 143.7l4.7 9.6h-9.4zM567 143.7l4.7 9.6h-9.4zM567.8 143.7l4.7 9.6h-9.4zM568.7 143.7l4.7 9.6h-9.4zM569.5 143.7l4.7 9.6h-9.4zM570.4 143.7l4.7 9.6h-9.4zM571.2 143.7l4.7 9.6h-9.4zM572.1 143.7l4.7 9.6h-9.4zM572.9 143.7l4.7 9.6h-9.4zM573.8 143.7l4.7 9.6h-9.4zM574.6 143.7l4.7 9.6h-9.4zM575.4 143.7l4.7 9.6h-9.4zM576.3 143.7l4.7 9.6h-9.4zM577.1 143.7l4.7 9.6h-9.4zM578 143.7l4.7 9.6h-9.4zM578.8 143.7l4.7 9.6h-9.4zM579.7 143.7l4.7 9.6h-9.4zM580.5 143.7l4.7 9.6h-9.4zM581.4 143.7l4.7 9.6h-9.4zM582.2 143.7l4.7 9.6h-9.4zM583 143.7l4.7 9.6h-9.4zM583.9 143.7l4.7 9.6h-9.4zM584.7 143.7l4.7 9.6h-9.4zM585.6 143.7l4.7 9.6h-9.4zM586.4 143.7l4.7 9.6h-9.4zM587.3 143.7l4.7 9.6h-9.4zM588.1 143.7l4.7 9.6h-9.4zM589 143.7l4.7 9.6h-9.4zM589.8 143.7l4.7 9.6h-9.4zM590.7 143.7l4.7 9.6h-9.4zM591.5 143.7l4.7 9.6h-9.4zM592.3 143.7l4.7 9.6h-9.4zM593.2 143.7l4.7 9.6h-9.4zM594 143.7l4.7 9.6h-9.4zM594.9 143.7l4.7 9.6h-9.4zM595.7 143.7l4.7 9.6h-9.4zM596.6 143.7l4.7 9.6h-9.4zM597.4 143.7l4.7 9.6h-9.4zM598.3 143.7l4.7 9.6h-9.4zM599.1 143.7l4.7 9.6h-9.4zM599.9 143.7l4.7 9.6h-9.4zM600.8 143.7l4.7 9.6h-9.4zM601.6 143.7l4.7 9.6h-9.4zM602.5 143.7l4.7 9.6h-9.4zM603.3 143.7l4.7 9.6h-9.4zM604.2 143.7l4.7 9.6h-9.4zM605 143.7l4.7 9.6h-9.4zM605.9 143.7l4.7 9.6h-9.4zM606.7 143.7l4.7 9.6h-9.4zM607.6 143.7l4.7 9.6h-9.4zM608.4 143.7l4.7 9.6h-9.4zM609.2 143.7l4.7 9.6h-9.4zM610.1 143.7l4.7 9.6h-9.4zM610.9 143.7l4.7 9.6h-9.4zM611.8 143.7l4.7 9.6h-9.4zM612.6 143.7l4.7 9.6h-9.4zM613.5 143.7l4.7 9.6h-9.4zM615.2 80.8l4.7 9.6h-9.4zM616 80.8l4.7 9.6h-9.4zM616.8 80.8l4.7 9.6h-9.4zM617.7 80.8l4.7 9.6h-9.4zM618.5 80.8l4.7 9.6h-9.4zM619.4 80.8l4.7 9.6h-9.4zM620.2 80.8l4.7 9.6h-9.4zM621.1 80.8l4.7 9.6h-9.4zM621.9 80.8l4.7 9.6h-9.4zM622.8 80.8l4.7 9.6h-9.4zM623.6 80.8l4.7 9.6h-9.4zM624.5 80.8l4.7 9.6h-9.4zM625.3 80.8l4.7 9.6h-9.4zM626.1 80.8l4.7 9.6h-9.4zM627 80.8l4.7 9.6h-9.4zM627.8 80.8l4.7 9.6h-9.4zM628.7 80.8l4.7 9.6h-9.4zM629.5 80.8l4.7 9.6h-9.4zM630.4 80.8l4.7 9.6h-9.4zM631.2 80.8l4.7 9.6h-9.4zM632.1 80.8l4.7 9.6h-9.4zM632.9 80.8l4.7 9.6h-9.4zM633.7 80.8l4.7 9.6h-9.4zM634.6 80.8l4.7 9.6h-9.4zM635.4 80.8l4.7 9.6h-9.4zM636.3 80.8l4.7 9.6h-9.4zM637.1 80.8l4.7 9.6h-9.4zM638 80.8l4.7 9.6h-9.4zM638.8 80.8l4.7 9.6h-9.4zM639.7 80.8l4.7 9.6h-9.4zM640.5 80.8l4.7 9.6h-9.4zM641.4 80.8l4.7 9.6h-9.4zM642.2 80.8l4.7 9.6h-9.4zM643 80.8l4.7 9.6h-9.4zM643.9 80.8l4.7 9.6h-9.4zM644.7 80.8l4.7 9.6h-9.4zM645.6 80.8l4.7 9.6h-9.4zM646.4 80.8l4.7 9.6h-9.4zM647.3 80.8l4.7 9.6h-9.4zM648.1 80.8l4.7 9.6h-9.4zM649 80.8l4.7 9.6h-9.4zM649.8 80.8l4.7 9.6h-9.4zM650.6 80.8l4.7 9.6h-9.4zM651.5 80.8l4.7 9.6h-9.4zM652.3 80.8l4.7 9.6h-9.4zM653.2 80.8l4.7 9.6h-9.4zM654 80.8l4.7 9.6h-9.4zM654.9 80.8l4.7 9.6h-9.4zM655.7 80.8l4.7 9.6h-9.4zM656.6 80.8l4.7 9.6h-9.4zM657.4 80.8l4.7 9.6h-9.4zM658.3 80.8l4.7 9.6h-9.4zM659.1 80.8l4.7 9.6h-9.4zM659.9 80.8l4.7 9.6h-9.4zM660.8 80.8l4.7 9.6h-9.4zM661.6 80.8l4.7 9.6h-9.4zM662.5 80.8l4.7 9.6h-9.4zM663.3 80.8l4.7 9.6h-9.4zM664.2 80.8l4.7 9.6h-9.4zM665 80.8l4.7 9.6h-9.4zM665.9 80.8l4.7 9.6h-9.4zM666.7 80.8l4.7 9.6h-9.4zM667.5 80.8l4.7 9.6h-9.4zM668.4 80.8l4.7 9.6h-9.4zM669.2 80.8l4.7 9.6h-9.4zM670.1 80.8l4.7 9.6h-9.4zM670.9 80.8l4.7 9.6h-9.4zM671.8 80.8l4.7 9.6h-9.4zM672.6 80.8l4.7 9.6h-9.4zM673.5 80.8l4.7 9.6h-9.4zM674.3 80.8l4.7 9.6h-9.4zM675.2 80.8l4.7 9.6h-9.4zM676 80.8l4.7 9.6h-9.4zM676.8 80.8l4.7 9.6h-9.4zM677.7 80.8l4.7 9.6h-9.4zM678.5 80.8l4.7 9.6h-9.4zM679.4 80.8l4.7 9.6h-9.4zM680.2 80.8l4.7 9.6h-9.4zM681.1 80.8l4.7 9.6h-9.4zM681.9 80.8l4.7 9.6h-9.4zM682.8 80.8l4.7 9.6h-9.4zM683.6 80.8l4.7 9.6h-9.4zM684.4 80.8l4.7 9.6h-9.4zM685.3 80.8l4.7 9.6h-9.4zM686.1 80.8l4.7 9.6h-9.4zM687 80.8l4.7 9.6h-9.4zM687.8 80.8l4.7 9.6h-9.4zM688.7 80.8l4.7 9.6h-9.4zM689.5 80.8l4.7 9.6h-9.4zM690.4 80.8l4.7 9.6h-9.4zM691.2 80.8l4.7 9.6h-9.4zM692.1 80.8l4.7 9.6h-9.4zM692.9 80.8l4.7 9.6h-9.4zM693.7 80.8l4.7 9.6h-9.4zM694.6 80.8l4.7 9.6h-9.4zM695.4 80.8l4.7 9.6h-9.4zM696.3 80.8l4.7 9.6h-9.4zM697.1 80.8l4.7 9.6h-9.4zM698 80.8l4.7 9.6h-9.4zM698.8 80.8l4.7 9.6h-9.4zM699.7 80.8l4.7 9.6h-9.4zM700.5 80.8l4.7 9.6h-9.4zM701.3 80.8l4.7 9.6h-9.4zM702.2 80.8l4.7 9.6h-9.4zM703 80.8l4.7 9.6h-9.4zM703.9 80.8l4.7 9.6h-9.4zM704.7 80.8l4.7 9.6h-9.4zM705.6 80.8l4.7 9.6h-9.4zM706.4 80.8l4.7 9.6h-9.4zM707.3 80.8l4.7 9.6h-9.4zM708.1 80.8l4.7 9.6h-9.4zM709 80.8l4.7 9.6h-9.4zM709.8 80.8l4.7 9.6h-9.4zM710.6 80.8l4.7 9.6h-9.4zM711.5 80.8l4.7 9.6h-9.4zM712.3 80.8l4.7 9.6h-9.4zM713.2 80.8l4.7 9.6h-9.4zM714 80.8l4.7 9.6h-9.4zM714.9 80.8l4.7 9.6h-9.4zM715.7 80.8l4.7 9.6h-9.4zM716.6 80.8l4.7 9.6h-9.4zM717.4 80.8l4.7 9.6h-9.4zM718.2 80.8l4.7 9.6h-9.4zM719.1 80.8l4.7 9.6h-9.4zM719.9 80.8l4.7 9.6h-9.4zM720.8 80.8l4.7 9.6h-9.4zM721.6 80.8l4.7 9.6h-9.4zM722.5 80.8l4.7 9.6h-9.4zM723.3 80.8l4.7 9.6h-9.4zM724.2 80.8l4.7 9.6h-9.4zM725 80.8l4.7 9.6h-9.4zM725.9 80.8l4.7 9.6h-9.4zM726.7 80.8l4.7 9.6h-9.4zM727.5 80.8l4.7 9.6h-9.4zM728.4 80.8l4.7 9.6h-9.4zM729.2 80.8l4.7 9.6h-9.4zM730.1 80.8l4.7 9.6h-9.4zM730.9 80.8l4.7 9.6h-9.4zM730.9 90.4l4.7 9.6h-9.4zM731.8 80.8l4.7 9.6h-9.4zM731.8 90.4l4.7 9.6h-9.4zM732.6 80.8l4.7 9.6h-9.4zM732.6 90.4l4.7 9.6h-9.4zM733.5 80.8l4.7 9.6h-9.4zM733.5 90.4l4.7 9.6h-9.4zM734.3 80.8l4.7 9.6h-9.4zM734.3 90.4l4.7 9.6h-9.4zM735.1 80.8l4.7 9.6h-9.4zM735.1 90.4l4.7 9.6h-9.4zM736 80.8l4.7 9.6h-9.4zM736 90.4l4.7 9.6h-9.4zM736.8 90.4l4.7 9.6h-9.4zM737.7 90.4l4.7 9.6h-9.4zM738.5 90.4l4.7 9.6h-9.4zM739.4 90.4l4.7 9.6h-9.4zM740.2 90.4l4.7 9.6h-9.4zM741.1 90.4l4.7 9.6h-9.4zM124.4 336.2l4.7 9.6h-9.4zM136.7 336.2l4.7 9.6h-9.4zM136.7 323.6l4.7 9.6h-9.4zM135.8 346.2l4.7 9.6h-9.4zM270 272.2l4.7 9.6h-9.4zM274.6 257.2l4.7 9.6h-9.4zM273.7 246.7l4.7 9.6h-9.4zM272.7 236.2l4.7 9.6h-9.4zM293.6 241.1l4.7 9.6h-9.4zM296.4 198.2l4.7 9.6h-9.4zM294.5 210.6l4.7 9.6h-9.4zM300 256.2l4.7 9.6h-9.4zM305 335.2l4.7 9.6h-9.4zM304 311.2l4.7 9.6h-9.4zM307 294.2l4.7 9.6h-9.4zM303 297.2l4.7 9.6h-9.4zM313.5 245.8l4.7 9.6h-9.4zM313.5 258.2l4.7 9.6h-9.4zM314.5 205.9l4.7 9.6h-9.4zM315.4 310.2l4.7 9.6h-9.4zM318 294.2l4.7 9.6h-9.4zM325 260l4.7 9.6h-9.4zM309 311.2l4.7 9.6h-9.4z" fill="#98ba52"/>
</g>
<path d="M73.2 376.4H802.5" stroke="#b2b2b2" stroke-width="1.9" fill="none"/>
<path d="M73.15 37.3V381M802.55 37.3V381M73.15 328h4.6M802.55 328h-4.6M73.15 279.7h4.6M802.55 279.7h-4.6M73.15 231.3h4.6M802.55 231.3h-4.6M73.15 182.9h4.6M802.55 182.9h-4.6M73.15 134.5h4.6M802.55 134.5h-4.6M73.15 86.2h4.6M802.55 86.2h-4.6M73.15 37.8h4.6M802.55 37.8h-4.6M146.09 376.4v4.6M219.03 376.4v4.6M291.97 376.4v4.6M364.91 376.4v4.6M437.85 376.4v4.6M510.79 376.4v4.6M583.73 376.4v4.6M656.67 376.4v4.6M729.61 376.4v4.6" stroke="#858585" stroke-width="1.2" fill="none"/>
<g font-family="'Liberation Sans', sans-serif" font-size="11" fill="#2b2b2b" stroke="#2b2b2b" stroke-width="0.22">
<text x="64.6" y="379.7" text-anchor="end">0</text>
<text x="809.8" y="379.7">0</text>
<text x="64.6" y="331.3" text-anchor="end">10000</text>
<text x="809.8" y="331.3">10</text>
<text x="64.6" y="283" text-anchor="end">20000</text>
<text x="809.8" y="283">20</text>
<text x="64.6" y="234.6" text-anchor="end">30000</text>
<text x="809.8" y="234.6">30</text>
<text x="64.6" y="186.2" text-anchor="end">40000</text>
<text x="809.8" y="186.2">40</text>
<text x="64.6" y="137.8" text-anchor="end">50000</text>
<text x="809.8" y="137.8">50</text>
<text x="64.6" y="89.5" text-anchor="end">60000</text>
<text x="809.8" y="89.5">60</text>
<text x="64.6" y="41.1" text-anchor="end">70000</text>
<text x="809.8" y="41.1">70</text>
<text x="72.7" y="395.9" text-anchor="middle">14:58:34</text>
<text x="145.6" y="395.9" text-anchor="middle">15:01:26</text>
<text x="218.5" y="395.9" text-anchor="middle">15:04:19</text>
<text x="291.5" y="395.9" text-anchor="middle">15:07:12</text>
<text x="364.4" y="395.9" text-anchor="middle">15:10:05</text>
<text x="437.4" y="395.9" text-anchor="middle">15:12:58</text>
<text x="510.3" y="395.9" text-anchor="middle">15:15:50</text>
<text x="583.2" y="395.9" text-anchor="middle">15:18:43</text>
<text x="656.2" y="395.9" text-anchor="middle">15:21:36</text>
<text x="729.1" y="395.9" text-anchor="middle">15:24:29</text>
<text x="802" y="395.9" text-anchor="middle">15:27:22</text>
</g>
<text x="85.35" y="52.6" font-family="'Liberation Sans', 'Noto Sans CJK SC', sans-serif" font-weight="bold" font-size="15.2" fill="#141414">浓度</text>
<text x="112.5" y="51.7" font-family="'Liberation Sans', 'Noto Sans CJK SC', sans-serif" font-weight="bold" font-size="15.2" fill="#141414">（</text>
<text x="130.2" y="51.7" font-family="'Liberation Sans', sans-serif" font-weight="bold" font-size="13.5" fill="#141414" textLength="27" lengthAdjust="spacingAndGlyphs">ppm</text>
<text x="159.6" y="51.7" font-family="'Liberation Sans', 'Noto Sans CJK SC', sans-serif" font-weight="bold" font-size="15.2" fill="#141414">）</text>
<text x="705.33" y="51.9" font-family="'Liberation Sans', 'Noto Sans CJK SC', sans-serif" font-weight="bold" font-size="15" fill="#141414">饱和度</text>
<text x="747.5" y="51.3" font-family="'Liberation Sans', 'Noto Sans CJK SC', sans-serif" font-weight="bold" font-size="15" fill="#141414">（</text>
<text x="764.1" y="51.3" font-family="'Liberation Sans', sans-serif" font-weight="bold" font-size="13" fill="#141414" textLength="11.5" lengthAdjust="spacingAndGlyphs">%</text>
<text x="776.4" y="51.3" font-family="'Liberation Sans', 'Noto Sans CJK SC', sans-serif" font-weight="bold" font-size="15" fill="#141414">）</text>
<path d="M656.3 230.2l4.5 4.5l-4.5 4.5l-4.5 -4.5z" fill="#4a7fbb"/>
<path d="M652.3 250.3h9v9h-9z" fill="#c04f4b"/>
<path d="M656.4 269.7l4.8 9.2h-9.6z" fill="#98ba52"/>
<text x="663.7" y="239.0" font-family="'Liberation Sans', sans-serif" font-size="11" fill="#2b2b2b" textLength="27.6" lengthAdjust="spacingAndGlyphs">H2O2</text>
<text x="691.2" y="239.6" font-family="'Liberation Sans', 'Noto Sans CJK SC', sans-serif" font-size="12" fill="#2b2b2b">浓度</text>
<text x="714" y="239.0" font-family="'Liberation Sans', 'Noto Sans CJK SC', sans-serif" font-size="12" fill="#2b2b2b">（</text>
<text x="728.5" y="239.0" font-family="'Liberation Sans', sans-serif" font-size="11" fill="#2b2b2b" textLength="22.2" lengthAdjust="spacingAndGlyphs">ppm</text>
<text x="753.4" y="239.0" font-family="'Liberation Sans', 'Noto Sans CJK SC', sans-serif" font-size="12" fill="#2b2b2b">）</text>
<text x="663.7" y="258.7" font-family="'Liberation Sans', sans-serif" font-size="11" fill="#2b2b2b" textLength="20.8" lengthAdjust="spacingAndGlyphs">H2O</text>
<text x="684.1" y="259.5" font-family="'Liberation Sans', 'Noto Sans CJK SC', sans-serif" font-size="12" fill="#2b2b2b">浓度</text>
<text x="707.6" y="258.7" font-family="'Liberation Sans', 'Noto Sans CJK SC', sans-serif" font-size="12" fill="#2b2b2b">（</text>
<text x="722.1" y="258.7" font-family="'Liberation Sans', sans-serif" font-size="11" fill="#2b2b2b" textLength="22.2" lengthAdjust="spacingAndGlyphs">ppm</text>
<text x="746.5" y="258.7" font-family="'Liberation Sans', 'Noto Sans CJK SC', sans-serif" font-size="12" fill="#2b2b2b">）</text>
<text x="663.95" y="278.8" font-family="'Liberation Sans', 'Noto Sans CJK SC', sans-serif" font-size="11.75" fill="#2b2b2b">饱和度</text>
<text x="696.9" y="277.9" font-family="'Liberation Sans', 'Noto Sans CJK SC', sans-serif" font-size="12" fill="#2b2b2b">（</text>
<text x="712.3" y="277.9" font-family="'Liberation Sans', sans-serif" font-size="11" fill="#2b2b2b" textLength="10" lengthAdjust="spacingAndGlyphs">%</text>
<text x="723.4" y="277.9" font-family="'Liberation Sans', 'Noto Sans CJK SC', sans-serif" font-size="12" fill="#2b2b2b">）</text>
</svg>
</body></html>
